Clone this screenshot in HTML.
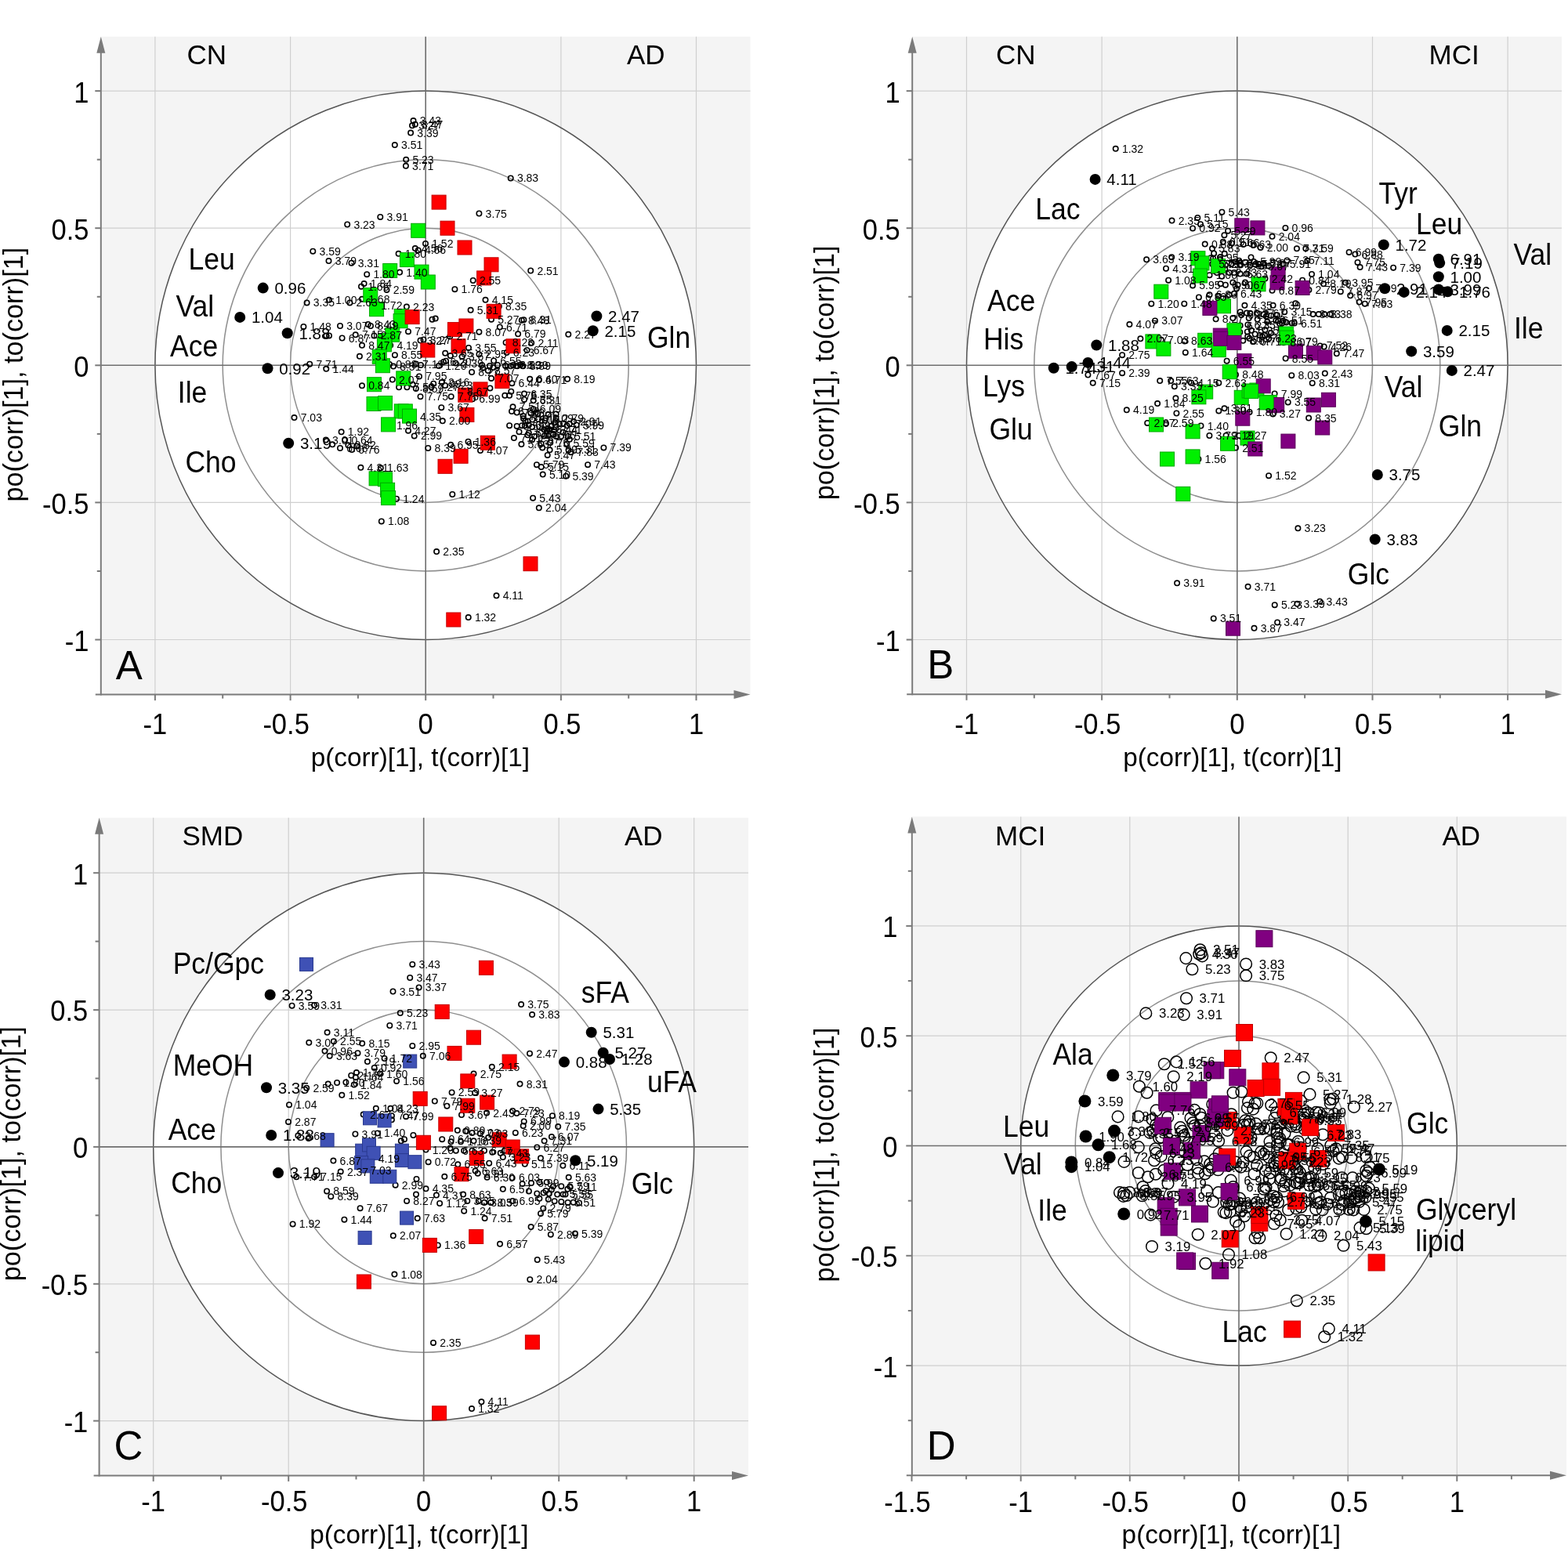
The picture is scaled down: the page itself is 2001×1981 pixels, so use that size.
<!DOCTYPE html><html><head><meta charset="utf-8"><title>Loadings plots</title><style>html,body{margin:0;padding:0;background:#fff}svg{display:block}</style></head><body>
<svg xmlns="http://www.w3.org/2000/svg" width="2001" height="1981" viewBox="0 0 2001 1981" font-family='"Liberation Sans", Arial, sans-serif' fill="#000">
<rect width="2001" height="1981" fill="#fff"/>
<g id="pA">
<rect x="128.8" y="46.7" width="828.7" height="839.9" fill="#f4f4f4"/>
<ellipse cx="543.2" cy="466.3" rx="345.3" ry="350.2" fill="#fff"/>
<line x1="197.9" y1="46.7" x2="197.9" y2="886.6" stroke="#cfcfcf" stroke-width="1.2"/>
<line x1="370.6" y1="46.7" x2="370.6" y2="886.6" stroke="#cfcfcf" stroke-width="1.2"/>
<line x1="715.9" y1="46.7" x2="715.9" y2="886.6" stroke="#cfcfcf" stroke-width="1.2"/>
<line x1="888.5" y1="46.7" x2="888.5" y2="886.6" stroke="#cfcfcf" stroke-width="1.2"/>
<line x1="128.8" y1="816.5" x2="957.5" y2="816.5" stroke="#cfcfcf" stroke-width="1.2"/>
<line x1="128.8" y1="641.4" x2="957.5" y2="641.4" stroke="#cfcfcf" stroke-width="1.2"/>
<line x1="128.8" y1="291.2" x2="957.5" y2="291.2" stroke="#cfcfcf" stroke-width="1.2"/>
<line x1="128.8" y1="116.1" x2="957.5" y2="116.1" stroke="#cfcfcf" stroke-width="1.2"/>
<ellipse cx="543.2" cy="466.3" rx="345.3" ry="350.2" fill="none" stroke="#555555" stroke-width="1.5"/>
<ellipse cx="543.2" cy="466.3" rx="259" ry="262.6" fill="none" stroke="#8f8f8f" stroke-width="1.5"/>
<ellipse cx="543.2" cy="466.3" rx="172.7" ry="175.1" fill="none" stroke="#8f8f8f" stroke-width="1.5"/>
<line x1="543.2" y1="46.7" x2="543.2" y2="886.6" stroke="#6e6e6e" stroke-width="1.6"/>
<line x1="128.8" y1="466.3" x2="957.5" y2="466.3" stroke="#6e6e6e" stroke-width="1.6"/>
</g>
<g fill="none" stroke="#000" stroke-width="1.6">
<circle cx="527.5" cy="154.1" r="3.2"/>
<circle cx="529.8" cy="158.7" r="3.2"/>
<circle cx="526" cy="160.3" r="3.2"/>
<circle cx="524.1" cy="169.6" r="3.2"/>
<circle cx="503.8" cy="185.1" r="3.2"/>
<circle cx="518.2" cy="203.8" r="3.2"/>
<circle cx="517.9" cy="211.8" r="3.2"/>
<circle cx="651.7" cy="227.4" r="3.2"/>
<circle cx="611.4" cy="272.5" r="3.2"/>
<circle cx="485.3" cy="276.9" r="3.2"/>
<circle cx="443.2" cy="286.5" r="3.2"/>
<circle cx="543" cy="310.9" r="3.2"/>
<circle cx="529.8" cy="317.1" r="3.2"/>
<circle cx="533.7" cy="319.4" r="3.2"/>
<circle cx="399.3" cy="320.7" r="3.2"/>
<circle cx="419.5" cy="333.1" r="3.2"/>
<circle cx="448.5" cy="335.7" r="3.2"/>
<circle cx="468.2" cy="350.2" r="3.2"/>
<circle cx="508.6" cy="323.8" r="3.2"/>
<circle cx="510.1" cy="347.6" r="3.2"/>
<circle cx="464.6" cy="362.1" r="3.2"/>
<circle cx="461" cy="365.7" r="3.2"/>
<circle cx="493.5" cy="369.9" r="3.2"/>
<circle cx="462" cy="381.8" r="3.2"/>
<circle cx="446.4" cy="386.4" r="3.2"/>
<circle cx="391.6" cy="386.4" r="3.2"/>
<circle cx="420" cy="382.8" r="3.2"/>
<circle cx="478" cy="390" r="3.2"/>
<circle cx="518.9" cy="391.6" r="3.2"/>
<circle cx="551.5" cy="407.7" r="3.2"/>
<circle cx="555.7" cy="406.6" r="3.2"/>
<circle cx="387.4" cy="417" r="3.2"/>
<circle cx="434" cy="416" r="3.2"/>
<circle cx="469.7" cy="413.9" r="3.2"/>
<circle cx="473" cy="416" r="3.2"/>
<circle cx="521" cy="423.2" r="3.2"/>
<circle cx="416.4" cy="428.4" r="3.2"/>
<circle cx="436.6" cy="431.5" r="3.2"/>
<circle cx="420" cy="428.4" r="3.2"/>
<circle cx="453.7" cy="427.3" r="3.2"/>
<circle cx="477.5" cy="428.4" r="3.2"/>
<circle cx="536.5" cy="434.6" r="3.2"/>
<circle cx="462" cy="440.8" r="3.2"/>
<circle cx="498.2" cy="440.8" r="3.2"/>
<circle cx="458.9" cy="454.8" r="3.2"/>
<circle cx="503.9" cy="453.2" r="3.2"/>
<circle cx="497" cy="465" r="3.2"/>
<circle cx="530.8" cy="464.6" r="3.2"/>
<circle cx="537" cy="466" r="3.2"/>
<circle cx="502" cy="467.5" r="3.2"/>
<circle cx="395.2" cy="464.7" r="3.2"/>
<circle cx="416.3" cy="470.8" r="3.2"/>
<circle cx="677.2" cy="345.5" r="3.2"/>
<circle cx="603.7" cy="358" r="3.2"/>
<circle cx="580.4" cy="369.2" r="3.2"/>
<circle cx="619.5" cy="382.8" r="3.2"/>
<circle cx="600.6" cy="395.8" r="3.2"/>
<circle cx="636.8" cy="391.1" r="3.2"/>
<circle cx="627" cy="407.7" r="3.2"/>
<circle cx="665.8" cy="408.7" r="3.2"/>
<circle cx="668.4" cy="408.2" r="3.2"/>
<circle cx="637.8" cy="417.5" r="3.2"/>
<circle cx="611.4" cy="423.7" r="3.2"/>
<circle cx="661.1" cy="426.3" r="3.2"/>
<circle cx="725.3" cy="426.8" r="3.2"/>
<circle cx="574.2" cy="429.4" r="3.2"/>
<circle cx="540.5" cy="433.5" r="3.2"/>
<circle cx="645.6" cy="437.2" r="3.2"/>
<circle cx="678.2" cy="437.7" r="3.2"/>
<circle cx="672.5" cy="447" r="3.2"/>
<circle cx="646.6" cy="450.1" r="3.2"/>
<circle cx="598" cy="443.9" r="3.2"/>
<circle cx="589.7" cy="455.3" r="3.2"/>
<circle cx="611.4" cy="452.2" r="3.2"/>
<circle cx="630.1" cy="460.5" r="3.2"/>
<circle cx="581.4" cy="463.6" r="3.2"/>
<circle cx="602.1" cy="475" r="3.2"/>
<circle cx="615" cy="466" r="3.2"/>
<circle cx="625" cy="467" r="3.2"/>
<circle cx="635" cy="466" r="3.2"/>
<circle cx="645" cy="467" r="3.2"/>
<circle cx="655" cy="466" r="3.2"/>
<circle cx="664.2" cy="465.6" r="3.2"/>
<circle cx="566" cy="462" r="3.2"/>
<circle cx="560" cy="467" r="3.2"/>
<circle cx="375.5" cy="533.1" r="3.2"/>
<circle cx="462" cy="492.3" r="3.2"/>
<circle cx="500.8" cy="484.5" r="3.2"/>
<circle cx="509.1" cy="494.3" r="3.2"/>
<circle cx="519.4" cy="494.3" r="3.2"/>
<circle cx="526.7" cy="490.7" r="3.2"/>
<circle cx="530.8" cy="495.9" r="3.2"/>
<circle cx="535" cy="480.4" r="3.2"/>
<circle cx="536.5" cy="506.2" r="3.2"/>
<circle cx="527.7" cy="532.1" r="3.2"/>
<circle cx="497.7" cy="542.5" r="3.2"/>
<circle cx="521" cy="549.7" r="3.2"/>
<circle cx="528.7" cy="556.4" r="3.2"/>
<circle cx="546.3" cy="572" r="3.2"/>
<circle cx="435.6" cy="551.3" r="3.2"/>
<circle cx="415.9" cy="561.6" r="3.2"/>
<circle cx="424.2" cy="567.3" r="3.2"/>
<circle cx="434" cy="572" r="3.2"/>
<circle cx="440.2" cy="561.6" r="3.2"/>
<circle cx="444.4" cy="568.3" r="3.2"/>
<circle cx="449" cy="574" r="3.2"/>
<circle cx="455.2" cy="569.4" r="3.2"/>
<circle cx="460.4" cy="596.8" r="3.2"/>
<circle cx="485.8" cy="597.3" r="3.2"/>
<circle cx="506" cy="636.7" r="3.2"/>
<circle cx="627" cy="482.9" r="3.2"/>
<circle cx="625.4" cy="495.4" r="3.2"/>
<circle cx="563.8" cy="488.1" r="3.2"/>
<circle cx="550.4" cy="493.8" r="3.2"/>
<circle cx="568" cy="492" r="3.2"/>
<circle cx="575.7" cy="506.2" r="3.2"/>
<circle cx="563.3" cy="520.2" r="3.2"/>
<circle cx="564.8" cy="537.3" r="3.2"/>
<circle cx="575.2" cy="567.8" r="3.2"/>
<circle cx="597.5" cy="563.7" r="3.2"/>
<circle cx="613" cy="575.1" r="3.2"/>
<circle cx="577.3" cy="631" r="3.2"/>
<circle cx="603.1" cy="509.3" r="3.2"/>
<circle cx="588" cy="500" r="3.2"/>
<circle cx="680.1" cy="635.7" r="3.2"/>
<circle cx="687.8" cy="648.3" r="3.2"/>
<circle cx="486.8" cy="665.4" r="3.2"/>
<circle cx="557.1" cy="704.1" r="3.2"/>
<circle cx="633.5" cy="760.3" r="3.2"/>
<circle cx="597.7" cy="788.1" r="3.2"/>
<circle cx="653.4" cy="489.2" r="3.2"/>
<circle cx="676.2" cy="483.8" r="3.2"/>
<circle cx="687.8" cy="484.5" r="3.2"/>
<circle cx="724.1" cy="483.8" r="3.2"/>
<circle cx="644.3" cy="504.8" r="3.2"/>
<circle cx="650.1" cy="504.8" r="3.2"/>
<circle cx="652.3" cy="499.7" r="3.2"/>
<circle cx="669" cy="502.6" r="3.2"/>
<circle cx="669" cy="509.9" r="3.2"/>
<circle cx="680.6" cy="511.3" r="3.2"/>
<circle cx="654.5" cy="519.3" r="3.2"/>
<circle cx="653" cy="525.1" r="3.2"/>
<circle cx="659.6" cy="526.5" r="3.2"/>
<circle cx="667.5" cy="530.9" r="3.2"/>
<circle cx="670.4" cy="537.4" r="3.2"/>
<circle cx="680.6" cy="522.2" r="3.2"/>
<circle cx="686.4" cy="528" r="3.2"/>
<circle cx="696.5" cy="533.8" r="3.2"/>
<circle cx="709.6" cy="533.8" r="3.2"/>
<circle cx="708.1" cy="539.6" r="3.2"/>
<circle cx="732" cy="538.1" r="3.2"/>
<circle cx="735.7" cy="542.5" r="3.2"/>
<circle cx="650.1" cy="543.2" r="3.2"/>
<circle cx="659.6" cy="543.9" r="3.2"/>
<circle cx="666.1" cy="543.2" r="3.2"/>
<circle cx="674.8" cy="542.5" r="3.2"/>
<circle cx="694.3" cy="548.3" r="3.2"/>
<circle cx="701.6" cy="548.3" r="3.2"/>
<circle cx="703.8" cy="543.9" r="3.2"/>
<circle cx="662.5" cy="551.2" r="3.2"/>
<circle cx="674.8" cy="552.6" r="3.2"/>
<circle cx="682" cy="557" r="3.2"/>
<circle cx="699.4" cy="556.2" r="3.2"/>
<circle cx="709.6" cy="557" r="3.2"/>
<circle cx="716.1" cy="557" r="3.2"/>
<circle cx="724.8" cy="557" r="3.2"/>
<circle cx="655.9" cy="559.1" r="3.2"/>
<circle cx="679.1" cy="561.3" r="3.2"/>
<circle cx="690.7" cy="566.4" r="3.2"/>
<circle cx="702.3" cy="564.9" r="3.2"/>
<circle cx="665.4" cy="567.1" r="3.2"/>
<circle cx="692.2" cy="571.4" r="3.2"/>
<circle cx="701.6" cy="574.3" r="3.2"/>
<circle cx="723.3" cy="566.4" r="3.2"/>
<circle cx="725.5" cy="574.3" r="3.2"/>
<circle cx="698.7" cy="580.9" r="3.2"/>
<circle cx="728.4" cy="577.2" r="3.2"/>
<circle cx="770.4" cy="571.4" r="3.2"/>
<circle cx="750.1" cy="593.2" r="3.2"/>
<circle cx="684.9" cy="593.2" r="3.2"/>
<circle cx="690.7" cy="596.1" r="3.2"/>
<circle cx="692.7" cy="605.6" r="3.2"/>
<circle cx="722.2" cy="607.7" r="3.2"/>
<circle cx="568.2" cy="450.8" r="3.2"/>
<circle cx="574.8" cy="454.1" r="3.2"/>
<circle cx="569" cy="460.7" r="3.2"/>
<circle cx="616.2" cy="469.8" r="3.2"/>
<circle cx="622.8" cy="473.1" r="3.2"/>
<circle cx="629.4" cy="469" r="3.2"/>
<circle cx="651.8" cy="467.3" r="3.2"/>
<circle cx="660.1" cy="467.3" r="3.2"/>
<circle cx="667.5" cy="467.3" r="3.2"/>
<circle cx="553.2" cy="489.7" r="3.2"/>
<circle cx="723.5" cy="543.3" r="3.2"/>
<circle cx="698.5" cy="547.6" r="3.2"/>
<circle cx="679.1" cy="544.9" r="3.2"/>
<circle cx="705.8" cy="554.8" r="3.2"/>
<circle cx="673.6" cy="537.6" r="3.2"/>
<circle cx="673.4" cy="555.3" r="3.2"/>
<circle cx="709.6" cy="528.5" r="3.2"/>
<circle cx="726.9" cy="560.8" r="3.2"/>
<circle cx="707.2" cy="548.5" r="3.2"/>
<circle cx="677.4" cy="527.5" r="3.2"/>
<circle cx="699.7" cy="529.1" r="3.2"/>
<circle cx="679.4" cy="535.5" r="3.2"/>
<circle cx="669.8" cy="543.2" r="3.2"/>
<circle cx="694.4" cy="556.5" r="3.2"/>
<circle cx="698" cy="550.2" r="3.2"/>
<circle cx="695.4" cy="536.7" r="3.2"/>
<circle cx="718.4" cy="551.8" r="3.2"/>
<circle cx="686.9" cy="535" r="3.2"/>
<circle cx="714" cy="541" r="3.2"/>
<circle cx="718.8" cy="540.5" r="3.2"/>
<circle cx="668" cy="534.3" r="3.2"/>
<circle cx="726.8" cy="540.9" r="3.2"/>
</g>
<rect x="551.1" y="249.1" width="18" height="18" fill="#ff0000" stroke="#c40000" stroke-width="1"/>
<rect x="524.7" y="285.3" width="18" height="18" fill="#00f000" stroke="#00a800" stroke-width="1"/>
<rect x="562" y="282.2" width="18" height="18" fill="#ff0000" stroke="#c40000" stroke-width="1"/>
<rect x="584" y="307" width="18" height="18" fill="#ff0000" stroke="#c40000" stroke-width="1"/>
<rect x="488.7" y="336.5" width="18" height="18" fill="#00f000" stroke="#00a800" stroke-width="1"/>
<rect x="510.4" y="322.6" width="18" height="18" fill="#00f000" stroke="#00a800" stroke-width="1"/>
<rect x="529" y="338.1" width="18" height="18" fill="#00f000" stroke="#00a800" stroke-width="1"/>
<rect x="537.3" y="351" width="18" height="18" fill="#00f000" stroke="#00a800" stroke-width="1"/>
<rect x="463.8" y="367.6" width="18" height="18" fill="#00f000" stroke="#00a800" stroke-width="1"/>
<rect x="471.6" y="385.7" width="18" height="18" fill="#00f000" stroke="#00a800" stroke-width="1"/>
<rect x="503.2" y="394.5" width="18" height="18" fill="#00f000" stroke="#00a800" stroke-width="1"/>
<rect x="502.1" y="400.7" width="18" height="18" fill="#00f000" stroke="#00a800" stroke-width="1"/>
<rect x="517.1" y="395.6" width="18" height="18" fill="#ff0000" stroke="#c40000" stroke-width="1"/>
<rect x="491.8" y="418.3" width="18" height="18" fill="#00f000" stroke="#00a800" stroke-width="1"/>
<rect x="482.5" y="425.6" width="18" height="18" fill="#00f000" stroke="#00a800" stroke-width="1"/>
<rect x="536.8" y="438" width="18" height="18" fill="#ff0000" stroke="#c40000" stroke-width="1"/>
<rect x="481.4" y="430.8" width="18" height="18" fill="#00f000" stroke="#00a800" stroke-width="1"/>
<rect x="475.2" y="446.3" width="18" height="18" fill="#00f000" stroke="#00a800" stroke-width="1"/>
<rect x="479.4" y="457.7" width="18" height="18" fill="#00f000" stroke="#00a800" stroke-width="1"/>
<rect x="618" y="328.8" width="18" height="18" fill="#ff0000" stroke="#c40000" stroke-width="1"/>
<rect x="608.6" y="345.9" width="18" height="18" fill="#ff0000" stroke="#c40000" stroke-width="1"/>
<rect x="621.1" y="388.3" width="18" height="18" fill="#ff0000" stroke="#c40000" stroke-width="1"/>
<rect x="571.4" y="411.6" width="18" height="18" fill="#ff0000" stroke="#c40000" stroke-width="1"/>
<rect x="585.9" y="407" width="18" height="18" fill="#ff0000" stroke="#c40000" stroke-width="1"/>
<rect x="576" y="432.8" width="18" height="18" fill="#ff0000" stroke="#c40000" stroke-width="1"/>
<rect x="645.9" y="432.8" width="18" height="18" fill="#ff0000" stroke="#c40000" stroke-width="1"/>
<rect x="468.5" y="481.7" width="18" height="18" fill="#00f000" stroke="#00a800" stroke-width="1"/>
<rect x="505.8" y="473.9" width="18" height="18" fill="#00f000" stroke="#00a800" stroke-width="1"/>
<rect x="468" y="506.5" width="18" height="18" fill="#00f000" stroke="#00a800" stroke-width="1"/>
<rect x="482.5" y="505.5" width="18" height="18" fill="#00f000" stroke="#00a800" stroke-width="1"/>
<rect x="503.2" y="515.9" width="18" height="18" fill="#00f000" stroke="#00a800" stroke-width="1"/>
<rect x="508.3" y="515.9" width="18" height="18" fill="#00f000" stroke="#00a800" stroke-width="1"/>
<rect x="513.5" y="522.1" width="18" height="18" fill="#00f000" stroke="#00a800" stroke-width="1"/>
<rect x="486.6" y="532.9" width="18" height="18" fill="#00f000" stroke="#00a800" stroke-width="1"/>
<rect x="471.1" y="601.8" width="18" height="18" fill="#00f000" stroke="#00a800" stroke-width="1"/>
<rect x="482.5" y="602.8" width="18" height="18" fill="#00f000" stroke="#00a800" stroke-width="1"/>
<rect x="485.6" y="616.3" width="18" height="18" fill="#00f000" stroke="#00a800" stroke-width="1"/>
<rect x="486.6" y="626.6" width="18" height="18" fill="#00f000" stroke="#00a800" stroke-width="1"/>
<rect x="631.9" y="477.6" width="18" height="18" fill="#ff0000" stroke="#c40000" stroke-width="1"/>
<rect x="604" y="487.9" width="18" height="18" fill="#ff0000" stroke="#c40000" stroke-width="1"/>
<rect x="584.8" y="495.2" width="18" height="18" fill="#ff0000" stroke="#c40000" stroke-width="1"/>
<rect x="586.9" y="520.5" width="18" height="18" fill="#ff0000" stroke="#c40000" stroke-width="1"/>
<rect x="613.3" y="556.2" width="18" height="18" fill="#ff0000" stroke="#c40000" stroke-width="1"/>
<rect x="579.1" y="573.3" width="18" height="18" fill="#ff0000" stroke="#c40000" stroke-width="1"/>
<rect x="559" y="586.3" width="18" height="18" fill="#ff0000" stroke="#c40000" stroke-width="1"/>
<rect x="668" y="710.7" width="18" height="18" fill="#ff0000" stroke="#c40000" stroke-width="1"/>
<rect x="569.8" y="782" width="18" height="18" fill="#ff0000" stroke="#c40000" stroke-width="1"/>
<g font-size="14">
<text x="535.7" y="159.1">3.43</text>
<text x="538" y="163.7">3.47</text>
<text x="534.2" y="165.3">3.27</text>
<text x="532.3" y="174.6">3.39</text>
<text x="512" y="190.1">3.51</text>
<text x="526.4" y="208.8">5.23</text>
<text x="526.1" y="216.8">3.71</text>
<text x="659.9" y="232.4">3.83</text>
<text x="619.6" y="277.5">3.75</text>
<text x="493.5" y="281.9">3.91</text>
<text x="451.4" y="291.5">3.23</text>
<text x="551.2" y="315.9">1.52</text>
<text x="538" y="322.1">4.56</text>
<text x="541.9" y="324.4">4.66</text>
<text x="407.5" y="325.7">3.59</text>
<text x="427.7" y="338.1">3.79</text>
<text x="456.7" y="340.7">3.31</text>
<text x="476.4" y="355.2">1.80</text>
<text x="516.8" y="328.8">1.80</text>
<text x="518.3" y="352.6">1.40</text>
<text x="472.8" y="367.1">1.84</text>
<text x="469.2" y="370.7">1.66</text>
<text x="501.7" y="374.9">2.59</text>
<text x="470.2" y="386.8">1.68</text>
<text x="454.6" y="391.4">2.63</text>
<text x="399.8" y="391.4">3.35</text>
<text x="428.2" y="387.8">1.00</text>
<text x="486.2" y="395">1.72</text>
<text x="527.1" y="396.6">2.23</text>
<text x="395.6" y="422">1.48</text>
<text x="442.2" y="421">3.07</text>
<text x="477.9" y="418.9">8.43</text>
<text x="481.2" y="421">8.49</text>
<text x="529.2" y="428.2">7.47</text>
<text x="444.8" y="436.5">6.87</text>
<text x="461.9" y="432.3">7.15</text>
<text x="485.7" y="433.4">2.87</text>
<text x="544.7" y="439.6">3.27</text>
<text x="470.2" y="445.8">8.47</text>
<text x="506.4" y="445.8">4.19</text>
<text x="467.1" y="459.8">2.31</text>
<text x="512.1" y="458.2">8.55</text>
<text x="505.2" y="470">0.88</text>
<text x="539" y="469.6">7.19</text>
<text x="510.2" y="472.5">8.51</text>
<text x="403.4" y="469.7">7.71</text>
<text x="424.5" y="475.8">1.44</text>
<text x="685.4" y="350.5">2.51</text>
<text x="611.9" y="363">2.55</text>
<text x="588.6" y="374.2">1.76</text>
<text x="627.7" y="387.8">4.15</text>
<text x="608.8" y="400.8">5.31</text>
<text x="645" y="396.1">8.35</text>
<text x="635.2" y="412.7">5.27</text>
<text x="674" y="413.7">8.48</text>
<text x="676.6" y="413.2">8.31</text>
<text x="646" y="422.5">6.71</text>
<text x="619.6" y="428.7">8.07</text>
<text x="669.3" y="431.3">6.79</text>
<text x="733.5" y="431.8">2.27</text>
<text x="582.4" y="434.4">2.71</text>
<text x="548.7" y="438.5">3.27</text>
<text x="653.8" y="442.2">8.23</text>
<text x="686.4" y="442.7">2.11</text>
<text x="680.7" y="452">6.67</text>
<text x="654.8" y="455.1">6.23</text>
<text x="606.2" y="448.9">3.55</text>
<text x="597.9" y="460.3">3.67</text>
<text x="619.6" y="457.2">2.95</text>
<text x="638.3" y="465.5">6.55</text>
<text x="589.6" y="468.6">2.39</text>
<text x="610.3" y="480">8.27</text>
<text x="643.2" y="471">6.63</text>
<text x="663.2" y="471">6.59</text>
<text x="672.4" y="470.6">8.39</text>
<text x="574.2" y="467">6.20</text>
<text x="568.2" y="472">1.20</text>
<text x="383.7" y="538.1">7.03</text>
<text x="470.2" y="497.3">0.84</text>
<text x="509" y="489.5">2.07</text>
<text x="527.6" y="499.3">7.59</text>
<text x="539" y="500.9">8.59</text>
<text x="543.2" y="485.4">7.95</text>
<text x="544.7" y="511.2">7.75</text>
<text x="535.9" y="537.1">4.35</text>
<text x="505.9" y="547.5">1.96</text>
<text x="529.2" y="554.7">4.27</text>
<text x="536.9" y="561.4">2.99</text>
<text x="554.5" y="577">8.39</text>
<text x="443.8" y="556.3">1.92</text>
<text x="424.1" y="566.6">3.01</text>
<text x="442.2" y="577">0.68</text>
<text x="448.4" y="566.6">0.64</text>
<text x="452.6" y="573.3">0.82</text>
<text x="457.2" y="579">0.76</text>
<text x="468.6" y="601.8">4.31</text>
<text x="494" y="602.3">1.63</text>
<text x="514.2" y="641.7">1.24</text>
<text x="635.2" y="487.9">7.07</text>
<text x="572" y="493.1">2.16</text>
<text x="558.6" y="498.8">7.27</text>
<text x="576.2" y="497">7.23</text>
<text x="583.9" y="511.2">7.75</text>
<text x="571.5" y="525.2">3.67</text>
<text x="573" y="542.3">2.00</text>
<text x="583.4" y="572.8">6.95</text>
<text x="605.7" y="568.7">1.36</text>
<text x="621.2" y="580.1">4.07</text>
<text x="585.5" y="636">1.12</text>
<text x="611.3" y="514.3">6.99</text>
<text x="596.2" y="505">8.67</text>
<text x="688.3" y="640.7">5.43</text>
<text x="696" y="653.3">2.04</text>
<text x="495" y="670.4">1.08</text>
<text x="565.3" y="709.1">2.35</text>
<text x="641.7" y="765.3">4.11</text>
<text x="605.9" y="793.1">1.32</text>
<text x="661.6" y="494.2">6.44</text>
<text x="684.4" y="488.8">6.40</text>
<text x="696" y="489.5">6.71</text>
<text x="732.3" y="488.8">8.19</text>
<text x="658.3" y="509.8">5.75</text>
<text x="677.2" y="507.6">6.35</text>
<text x="677.2" y="514.9">5.35</text>
<text x="688.8" y="516.3">6.31</text>
<text x="662.7" y="524.3">7.51</text>
<text x="661.2" y="530.1">8.03</text>
<text x="667.8" y="531.5">7.63</text>
<text x="675.7" y="535.9">7.27</text>
<text x="688.8" y="527.2">6.09</text>
<text x="704.7" y="538.8">8.09</text>
<text x="717.8" y="538.8">2.79</text>
<text x="740.2" y="543.1">2.91</text>
<text x="743.9" y="547.5">5.99</text>
<text x="667.8" y="548.9">5.55</text>
<text x="683" y="547.5">6.91</text>
<text x="709.8" y="553.3">8.44</text>
<text x="683" y="557.6">6.15</text>
<text x="707.6" y="561.2">6.95</text>
<text x="733" y="562">5.51</text>
<text x="664.1" y="564.1">7.71</text>
<text x="687.3" y="566.3">7.67</text>
<text x="698.9" y="571.4">7.75</text>
<text x="673.6" y="572.1">5.63</text>
<text x="709.8" y="579.3">5.59</text>
<text x="731.5" y="571.4">5.59</text>
<text x="733.7" y="579.3">5.31</text>
<text x="706.9" y="585.9">5.47</text>
<text x="736.6" y="582.2">7.83</text>
<text x="778.6" y="576.4">7.39</text>
<text x="758.3" y="598.2">7.43</text>
<text x="693.1" y="598.2">5.79</text>
<text x="698.9" y="601.1">5.15</text>
<text x="700.9" y="610.6">5.10</text>
<text x="730.4" y="612.7">5.39</text>
<text x="576.4" y="455.8">3.65</text>
<text x="631" y="478.1">8.57</text>
<text x="675.7" y="472.3">8.39</text>
<text x="561.4" y="494.7">7.99</text>
<text x="687.3" y="549.9">8.03</text>
<text x="681.6" y="560.3">7.07</text>
<text x="715.4" y="553.5">7.71</text>
<text x="687.6" y="540.5">6.15</text>
<text x="735" y="545.9">7.07</text>
</g>
<g font-size="20.5">
<circle cx="335.7" cy="367.6" r="7"/>
<text x="350.4" y="374.9">0.96</text>
<circle cx="306.2" cy="404.9" r="7"/>
<text x="320.9" y="412.2">1.04</text>
<circle cx="366.7" cy="425.3" r="7"/>
<text x="381.4" y="432.6">1.88</text>
<circle cx="341.5" cy="470.2" r="7"/>
<text x="356.2" y="477.5">0.92</text>
<circle cx="761.4" cy="403.5" r="7"/>
<text x="776.1" y="410.8">2.47</text>
<circle cx="756.7" cy="422.2" r="7"/>
<text x="771.4" y="429.5">2.15</text>
<circle cx="368.2" cy="565.8" r="7"/>
<text x="382.9" y="573.1">3.19</text>
</g>
<text transform="translate(240.5 343.8) scale(1 1.085)" font-size="35.5">Leu</text>
<text transform="translate(224.5 403.6) scale(1 1.085)" font-size="35.5">Val</text>
<text transform="translate(217.1 455.2) scale(1 1.085)" font-size="35.5">Ace</text>
<text transform="translate(825.9 443.9) scale(1 1.085)" font-size="35.5">Gln</text>
<text transform="translate(226.8 514) scale(1 1.085)" font-size="35.5">Ile</text>
<text transform="translate(236.5 602.5) scale(1 1.085)" font-size="35.5">Cho</text>
<g stroke="#7a7a7a" stroke-width="2" fill="none">
<line x1="128.8" y1="887.6" x2="128.8" y2="64.7"/>
<line x1="121.8" y1="886.6" x2="939.5" y2="886.6"/>
<line x1="197.9" y1="886.6" x2="197.9" y2="894.1"/>
<line x1="370.6" y1="886.6" x2="370.6" y2="894.1"/>
<line x1="543.2" y1="886.6" x2="543.2" y2="894.1"/>
<line x1="715.9" y1="886.6" x2="715.9" y2="894.1"/>
<line x1="888.5" y1="886.6" x2="888.5" y2="894.1"/>
<line x1="284.2" y1="886.6" x2="284.2" y2="891.6"/>
<line x1="456.9" y1="886.6" x2="456.9" y2="891.6"/>
<line x1="629.5" y1="886.6" x2="629.5" y2="891.6"/>
<line x1="802.2" y1="886.6" x2="802.2" y2="891.6"/>
<line x1="121.3" y1="816.5" x2="128.8" y2="816.5"/>
<line x1="121.3" y1="641.4" x2="128.8" y2="641.4"/>
<line x1="121.3" y1="466.3" x2="128.8" y2="466.3"/>
<line x1="121.3" y1="291.2" x2="128.8" y2="291.2"/>
<line x1="121.3" y1="116.1" x2="128.8" y2="116.1"/>
<line x1="123.8" y1="729" x2="128.8" y2="729"/>
<line x1="123.8" y1="553.9" x2="128.8" y2="553.9"/>
<line x1="123.8" y1="378.8" x2="128.8" y2="378.8"/>
<line x1="123.8" y1="203.7" x2="128.8" y2="203.7"/>
</g>
<path d="M128.8 46.7 L123.3 67.7 L134.3 67.7 Z" fill="#7a7a7a"/>
<path d="M957.5 886.6 L936.5 881.1 L936.5 892.1 Z" fill="#7a7a7a"/>
<g>
<text transform="translate(197.9 937.2) scale(1 1.08)" font-size="34.5" text-anchor="middle">-1</text>
<text transform="translate(365.1 937.2) scale(1 1.08)" font-size="34.5" text-anchor="middle">-0.5</text>
<text transform="translate(543.2 937.2) scale(1 1.08)" font-size="34.5" text-anchor="middle">0</text>
<text transform="translate(717.4 937.2) scale(1 1.08)" font-size="34.5" text-anchor="middle">0.5</text>
<text transform="translate(888.5 937.2) scale(1 1.08)" font-size="34.5" text-anchor="middle">1</text>
<text transform="translate(113.5 830.9) scale(1 1.08)" font-size="34.5" text-anchor="end">-1</text>
<text transform="translate(113.5 655.8) scale(1 1.08)" font-size="34.5" text-anchor="end">-0.5</text>
<text transform="translate(113.5 480.7) scale(1 1.08)" font-size="34.5" text-anchor="end">0</text>
<text transform="translate(113.5 305.6) scale(1 1.08)" font-size="34.5" text-anchor="end">0.5</text>
<text transform="translate(113.5 130.5) scale(1 1.08)" font-size="34.5" text-anchor="end">1</text>
</g>
<text x="536.4" y="978.4" font-size="33.3" text-anchor="middle">p(corr)[1], t(corr)[1]</text>
<text transform="translate(28.6 478.2) rotate(-90)" x="0" y="0" font-size="34.2" text-anchor="middle">po(corr)[1], to(corr)[1]</text>
<text x="147.8" y="866.6" font-size="51">A</text>
<text x="238.5" y="82.2" font-size="35">CN</text>
<text x="800" y="82.2" font-size="35">AD</text>
<g id="pB">
<rect x="1164.2" y="46.7" width="828.8" height="839.6" fill="#f4f4f4"/>
<ellipse cx="1578.8" cy="466.3" rx="345.3" ry="350.2" fill="#fff"/>
<line x1="1233.5" y1="46.7" x2="1233.5" y2="886.3" stroke="#cfcfcf" stroke-width="1.2"/>
<line x1="1406.1" y1="46.7" x2="1406.1" y2="886.3" stroke="#cfcfcf" stroke-width="1.2"/>
<line x1="1751.5" y1="46.7" x2="1751.5" y2="886.3" stroke="#cfcfcf" stroke-width="1.2"/>
<line x1="1924.1" y1="46.7" x2="1924.1" y2="886.3" stroke="#cfcfcf" stroke-width="1.2"/>
<line x1="1164.2" y1="816.5" x2="1993" y2="816.5" stroke="#cfcfcf" stroke-width="1.2"/>
<line x1="1164.2" y1="641.4" x2="1993" y2="641.4" stroke="#cfcfcf" stroke-width="1.2"/>
<line x1="1164.2" y1="291.2" x2="1993" y2="291.2" stroke="#cfcfcf" stroke-width="1.2"/>
<line x1="1164.2" y1="116.1" x2="1993" y2="116.1" stroke="#cfcfcf" stroke-width="1.2"/>
<ellipse cx="1578.8" cy="466.3" rx="345.3" ry="350.2" fill="none" stroke="#555555" stroke-width="1.5"/>
<ellipse cx="1578.8" cy="466.3" rx="259" ry="262.6" fill="none" stroke="#8f8f8f" stroke-width="1.5"/>
<ellipse cx="1578.8" cy="466.3" rx="172.7" ry="175.1" fill="none" stroke="#8f8f8f" stroke-width="1.5"/>
<line x1="1578.8" y1="46.7" x2="1578.8" y2="886.3" stroke="#6e6e6e" stroke-width="1.6"/>
<line x1="1164.2" y1="466.3" x2="1993" y2="466.3" stroke="#6e6e6e" stroke-width="1.6"/>
</g>
<g fill="none" stroke="#000" stroke-width="1.6">
<circle cx="1423.7" cy="189.8" r="3.2"/>
<circle cx="1559.4" cy="270.7" r="3.2"/>
<circle cx="1495.5" cy="281.6" r="3.2"/>
<circle cx="1528.3" cy="278" r="3.2"/>
<circle cx="1532" cy="286.2" r="3.2"/>
<circle cx="1522.1" cy="291.4" r="3.2"/>
<circle cx="1537.7" cy="311.6" r="3.2"/>
<circle cx="1547" cy="317.3" r="3.2"/>
<circle cx="1463.1" cy="331.3" r="3.2"/>
<circle cx="1495.2" cy="328.2" r="3.2"/>
<circle cx="1488" cy="342.7" r="3.2"/>
<circle cx="1491.1" cy="357.7" r="3.2"/>
<circle cx="1522.1" cy="364.4" r="3.2"/>
<circle cx="1529.9" cy="379.4" r="3.2"/>
<circle cx="1469.3" cy="387.7" r="3.2"/>
<circle cx="1511.3" cy="387.7" r="3.2"/>
<circle cx="1588.4" cy="389.8" r="3.2"/>
<circle cx="1624.6" cy="389.8" r="3.2"/>
<circle cx="1474" cy="409.4" r="3.2"/>
<circle cx="1441.4" cy="414.1" r="3.2"/>
<circle cx="1551.6" cy="407.3" r="3.2"/>
<circle cx="1567.1" cy="294.7" r="3.2"/>
<circle cx="1562.4" cy="300.2" r="3.2"/>
<circle cx="1623.5" cy="301.8" r="3.2"/>
<circle cx="1560.8" cy="308.8" r="3.2"/>
<circle cx="1571.8" cy="310.4" r="3.2"/>
<circle cx="1586.7" cy="312" r="3.2"/>
<circle cx="1600" cy="312.7" r="3.2"/>
<circle cx="1608.6" cy="315.9" r="3.2"/>
<circle cx="1545.1" cy="329.2" r="3.2"/>
<circle cx="1563.9" cy="338.6" r="3.2"/>
<circle cx="1571.8" cy="337.1" r="3.2"/>
<circle cx="1576.5" cy="333.9" r="3.2"/>
<circle cx="1582.7" cy="338.6" r="3.2"/>
<circle cx="1589" cy="334.7" r="3.2"/>
<circle cx="1595.3" cy="338.6" r="3.2"/>
<circle cx="1600" cy="333.9" r="3.2"/>
<circle cx="1606.3" cy="337.1" r="3.2"/>
<circle cx="1612.5" cy="336.3" r="3.2"/>
<circle cx="1618.8" cy="339.4" r="3.2"/>
<circle cx="1637.6" cy="337.1" r="3.2"/>
<circle cx="1642.4" cy="332.4" r="3.2"/>
<circle cx="1543.5" cy="351.2" r="3.2"/>
<circle cx="1552.9" cy="348" r="3.2"/>
<circle cx="1559.2" cy="352.7" r="3.2"/>
<circle cx="1568.6" cy="348" r="3.2"/>
<circle cx="1574.9" cy="348" r="3.2"/>
<circle cx="1582.7" cy="349.6" r="3.2"/>
<circle cx="1590.6" cy="349.6" r="3.2"/>
<circle cx="1557.6" cy="362.2" r="3.2"/>
<circle cx="1563.9" cy="363.7" r="3.2"/>
<circle cx="1573.3" cy="360.6" r="3.2"/>
<circle cx="1579.6" cy="363.7" r="3.2"/>
<circle cx="1578" cy="368.4" r="3.2"/>
<circle cx="1589" cy="360.6" r="3.2"/>
<circle cx="1623.5" cy="370.8" r="3.2"/>
<circle cx="1543.5" cy="376.3" r="3.2"/>
<circle cx="1554.5" cy="377.8" r="3.2"/>
<circle cx="1560.8" cy="381" r="3.2"/>
<circle cx="1568.6" cy="376.3" r="3.2"/>
<circle cx="1574.9" cy="374.7" r="3.2"/>
<circle cx="1582.7" cy="398.2" r="3.2"/>
<circle cx="1595.3" cy="399.8" r="3.2"/>
<circle cx="1604.7" cy="399.8" r="3.2"/>
<circle cx="1612.5" cy="401.4" r="3.2"/>
<circle cx="1622" cy="402.9" r="3.2"/>
<circle cx="1629.8" cy="402.2" r="3.2"/>
<circle cx="1639.2" cy="398.2" r="3.2"/>
<circle cx="1653.3" cy="387.3" r="3.2"/>
<circle cx="1573.3" cy="406.1" r="3.2"/>
<circle cx="1582.7" cy="415.5" r="3.2"/>
<circle cx="1593.7" cy="406.1" r="3.2"/>
<circle cx="1604.7" cy="407.6" r="3.2"/>
<circle cx="1617.3" cy="410.8" r="3.2"/>
<circle cx="1628.2" cy="409.2" r="3.2"/>
<circle cx="1636.1" cy="412.4" r="3.2"/>
<circle cx="1648.6" cy="412.4" r="3.2"/>
<circle cx="1596.9" cy="421.8" r="3.2"/>
<circle cx="1601.6" cy="426.5" r="3.2"/>
<circle cx="1607.8" cy="428" r="3.2"/>
<circle cx="1614.1" cy="428" r="3.2"/>
<circle cx="1622" cy="424.9" r="3.2"/>
<circle cx="1592.2" cy="429.6" r="3.2"/>
<circle cx="1640.4" cy="290.9" r="3.2"/>
<circle cx="1654.9" cy="317.3" r="3.2"/>
<circle cx="1666.3" cy="317.3" r="3.2"/>
<circle cx="1668.3" cy="332.8" r="3.2"/>
<circle cx="1674" cy="349.9" r="3.2"/>
<circle cx="1614.5" cy="355.6" r="3.2"/>
<circle cx="1662.1" cy="357.7" r="3.2"/>
<circle cx="1689" cy="362.3" r="3.2"/>
<circle cx="1717" cy="360.8" r="3.2"/>
<circle cx="1670.4" cy="370.1" r="3.2"/>
<circle cx="1710.8" cy="372.2" r="3.2"/>
<circle cx="1723.2" cy="377.3" r="3.2"/>
<circle cx="1734.6" cy="385.6" r="3.2"/>
<circle cx="1741.8" cy="387.7" r="3.2"/>
<circle cx="1747" cy="368" r="3.2"/>
<circle cx="1721.6" cy="321.9" r="3.2"/>
<circle cx="1729.4" cy="324.5" r="3.2"/>
<circle cx="1732.5" cy="334.9" r="3.2"/>
<circle cx="1735.6" cy="341.1" r="3.2"/>
<circle cx="1675.6" cy="401.1" r="3.2"/>
<circle cx="1682.8" cy="401.1" r="3.2"/>
<circle cx="1690.1" cy="401.1" r="3.2"/>
<circle cx="1697.3" cy="401.1" r="3.2"/>
<circle cx="1651.8" cy="412.5" r="3.2"/>
<circle cx="1631.1" cy="409.4" r="3.2"/>
<circle cx="1641.4" cy="411.5" r="3.2"/>
<circle cx="1778.1" cy="341.7" r="3.2"/>
<circle cx="1432.1" cy="453.2" r="3.2"/>
<circle cx="1388.4" cy="478.5" r="3.2"/>
<circle cx="1394.7" cy="488.8" r="3.2"/>
<circle cx="1432.1" cy="476.2" r="3.2"/>
<circle cx="1437.8" cy="523.3" r="3.2"/>
<circle cx="1455.4" cy="432.3" r="3.2"/>
<circle cx="1481.8" cy="433.8" r="3.2"/>
<circle cx="1511.8" cy="435.4" r="3.2"/>
<circle cx="1512.8" cy="449.9" r="3.2"/>
<circle cx="1565.6" cy="460.7" r="3.2"/>
<circle cx="1480.2" cy="486.1" r="3.2"/>
<circle cx="1494.2" cy="486.1" r="3.2"/>
<circle cx="1498.8" cy="493.3" r="3.2"/>
<circle cx="1520.1" cy="488.7" r="3.2"/>
<circle cx="1555.3" cy="488.7" r="3.2"/>
<circle cx="1577" cy="478.3" r="3.2"/>
<circle cx="1500.4" cy="508.3" r="3.2"/>
<circle cx="1477.1" cy="515.1" r="3.2"/>
<circle cx="1501.4" cy="527.5" r="3.2"/>
<circle cx="1555.3" cy="524.4" r="3.2"/>
<circle cx="1562.5" cy="521.3" r="3.2"/>
<circle cx="1594.6" cy="525.9" r="3.2"/>
<circle cx="1464.2" cy="539.9" r="3.2"/>
<circle cx="1488" cy="540.4" r="3.2"/>
<circle cx="1532.5" cy="543.5" r="3.2"/>
<circle cx="1543.4" cy="556" r="3.2"/>
<circle cx="1564.6" cy="556" r="3.2"/>
<circle cx="1581.1" cy="556" r="3.2"/>
<circle cx="1577" cy="571.5" r="3.2"/>
<circle cx="1529.4" cy="586" r="3.2"/>
<circle cx="1586.3" cy="434.8" r="3.2"/>
<circle cx="1599.8" cy="435.9" r="3.2"/>
<circle cx="1640.6" cy="457.5" r="3.2"/>
<circle cx="1705.8" cy="451.3" r="3.2"/>
<circle cx="1684.6" cy="441.4" r="3.2"/>
<circle cx="1689.7" cy="442.5" r="3.2"/>
<circle cx="1648.3" cy="479.2" r="3.2"/>
<circle cx="1690.8" cy="476.6" r="3.2"/>
<circle cx="1674.7" cy="489" r="3.2"/>
<circle cx="1626.6" cy="502.5" r="3.2"/>
<circle cx="1643.7" cy="513.4" r="3.2"/>
<circle cx="1624.5" cy="528.4" r="3.2"/>
<circle cx="1670.1" cy="533.6" r="3.2"/>
<circle cx="1594.5" cy="432.1" r="3.2"/>
<circle cx="1611.1" cy="430" r="3.2"/>
<circle cx="1619.3" cy="432.1" r="3.2"/>
<circle cx="1592.4" cy="414.5" r="3.2"/>
<circle cx="1638" cy="437.3" r="3.2"/>
<circle cx="1646.3" cy="436.3" r="3.2"/>
<circle cx="1619.1" cy="607.2" r="3.2"/>
<circle cx="1656.4" cy="674.3" r="3.2"/>
<circle cx="1502.1" cy="744.3" r="3.2"/>
<circle cx="1592.6" cy="748.8" r="3.2"/>
<circle cx="1626.7" cy="772.2" r="3.2"/>
<circle cx="1655.3" cy="770.8" r="3.2"/>
<circle cx="1684.3" cy="767.7" r="3.2"/>
<circle cx="1548.7" cy="789.4" r="3.2"/>
<circle cx="1630.1" cy="794.4" r="3.2"/>
<circle cx="1600.5" cy="801.8" r="3.2"/>
<circle cx="1547.1" cy="337.1" r="3.2"/>
<circle cx="1596.5" cy="328.5" r="3.2"/>
<circle cx="1548.1" cy="330" r="3.2"/>
<circle cx="1609.5" cy="340.2" r="3.2"/>
<circle cx="1549.1" cy="323.4" r="3.2"/>
<circle cx="1581.2" cy="332.7" r="3.2"/>
<circle cx="1555.3" cy="339.6" r="3.2"/>
<circle cx="1551.2" cy="337.4" r="3.2"/>
<circle cx="1556.9" cy="328.5" r="3.2"/>
<circle cx="1563.3" cy="343.2" r="3.2"/>
<circle cx="1556.7" cy="331.5" r="3.2"/>
<circle cx="1601.8" cy="337.4" r="3.2"/>
<circle cx="1549" cy="345.7" r="3.2"/>
<circle cx="1562.7" cy="323.8" r="3.2"/>
<circle cx="1559" cy="336.4" r="3.2"/>
<circle cx="1637.5" cy="409.5" r="3.2"/>
<circle cx="1614.5" cy="421" r="3.2"/>
<circle cx="1591" cy="399.6" r="3.2"/>
<circle cx="1634.5" cy="419.5" r="3.2"/>
<circle cx="1591.8" cy="423.5" r="3.2"/>
<circle cx="1632.9" cy="413.1" r="3.2"/>
<circle cx="1582.3" cy="423.9" r="3.2"/>
<circle cx="1615.8" cy="403.8" r="3.2"/>
<circle cx="1584.1" cy="401.9" r="3.2"/>
</g>
<rect x="1575.8" y="278.8" width="18" height="18" fill="#800080" stroke="#5a005a" stroke-width="1"/>
<rect x="1595.9" y="281.9" width="18" height="18" fill="#800080" stroke="#5a005a" stroke-width="1"/>
<rect x="1519.9" y="320.7" width="18" height="18" fill="#00f000" stroke="#00a800" stroke-width="1"/>
<rect x="1525" y="326.9" width="18" height="18" fill="#00f000" stroke="#00a800" stroke-width="1"/>
<rect x="1522.4" y="343" width="18" height="18" fill="#00f000" stroke="#00a800" stroke-width="1"/>
<rect x="1545.7" y="330.5" width="18" height="18" fill="#00f000" stroke="#00a800" stroke-width="1"/>
<rect x="1472.8" y="363.2" width="18" height="18" fill="#00f000" stroke="#00a800" stroke-width="1"/>
<rect x="1597" y="353.8" width="18" height="18" fill="#00f000" stroke="#00a800" stroke-width="1"/>
<rect x="1552.5" y="381.8" width="18" height="18" fill="#00f000" stroke="#00a800" stroke-width="1"/>
<rect x="1534.9" y="384.4" width="18" height="18" fill="#800080" stroke="#5a005a" stroke-width="1"/>
<rect x="1565.9" y="412.8" width="18" height="18" fill="#00f000" stroke="#00a800" stroke-width="1"/>
<rect x="1548.3" y="419.1" width="18" height="18" fill="#800080" stroke="#5a005a" stroke-width="1"/>
<rect x="1622.1" y="340.9" width="18" height="18" fill="#800080" stroke="#5a005a" stroke-width="1"/>
<rect x="1621" y="351.8" width="18" height="18" fill="#800080" stroke="#5a005a" stroke-width="1"/>
<rect x="1653.1" y="358.5" width="18" height="18" fill="#800080" stroke="#5a005a" stroke-width="1"/>
<rect x="1632.4" y="417" width="18" height="18" fill="#00f000" stroke="#00a800" stroke-width="1"/>
<rect x="1461.9" y="426.9" width="18" height="18" fill="#00f000" stroke="#00a800" stroke-width="1"/>
<rect x="1475.9" y="436.2" width="18" height="18" fill="#00f000" stroke="#00a800" stroke-width="1"/>
<rect x="1528.7" y="425.3" width="18" height="18" fill="#00f000" stroke="#00a800" stroke-width="1"/>
<rect x="1546.3" y="437.7" width="18" height="18" fill="#00f000" stroke="#00a800" stroke-width="1"/>
<rect x="1560.2" y="465.7" width="18" height="18" fill="#00f000" stroke="#00a800" stroke-width="1"/>
<rect x="1529.7" y="491.1" width="18" height="18" fill="#00f000" stroke="#00a800" stroke-width="1"/>
<rect x="1520.9" y="497.8" width="18" height="18" fill="#00f000" stroke="#00a800" stroke-width="1"/>
<rect x="1575.2" y="498.3" width="18" height="18" fill="#00f000" stroke="#00a800" stroke-width="1"/>
<rect x="1585.1" y="490" width="18" height="18" fill="#00f000" stroke="#00a800" stroke-width="1"/>
<rect x="1594.9" y="489" width="18" height="18" fill="#00f000" stroke="#00a800" stroke-width="1"/>
<rect x="1611.5" y="504.5" width="18" height="18" fill="#00f000" stroke="#00a800" stroke-width="1"/>
<rect x="1466.5" y="533" width="18" height="18" fill="#00f000" stroke="#00a800" stroke-width="1"/>
<rect x="1513.1" y="541.8" width="18" height="18" fill="#00f000" stroke="#00a800" stroke-width="1"/>
<rect x="1557.6" y="557.3" width="18" height="18" fill="#00f000" stroke="#00a800" stroke-width="1"/>
<rect x="1583" y="550.1" width="18" height="18" fill="#00f000" stroke="#00a800" stroke-width="1"/>
<rect x="1480.5" y="577" width="18" height="18" fill="#00f000" stroke="#00a800" stroke-width="1"/>
<rect x="1513.1" y="573.9" width="18" height="18" fill="#00f000" stroke="#00a800" stroke-width="1"/>
<rect x="1548.8" y="423.3" width="18" height="18" fill="#800080" stroke="#5a005a" stroke-width="1"/>
<rect x="1565.9" y="428.4" width="18" height="18" fill="#800080" stroke="#5a005a" stroke-width="1"/>
<rect x="1578.9" y="451.7" width="18" height="18" fill="#800080" stroke="#5a005a" stroke-width="1"/>
<rect x="1603.2" y="483.8" width="18" height="18" fill="#800080" stroke="#5a005a" stroke-width="1"/>
<rect x="1616.7" y="508.7" width="18" height="18" fill="#800080" stroke="#5a005a" stroke-width="1"/>
<rect x="1576.8" y="525.2" width="18" height="18" fill="#800080" stroke="#5a005a" stroke-width="1"/>
<rect x="1592.8" y="564" width="18" height="18" fill="#800080" stroke="#5a005a" stroke-width="1"/>
<rect x="1644.5" y="439.2" width="18" height="18" fill="#800080" stroke="#5a005a" stroke-width="1"/>
<rect x="1667.3" y="441.7" width="18" height="18" fill="#800080" stroke="#5a005a" stroke-width="1"/>
<rect x="1681.8" y="446.9" width="18" height="18" fill="#800080" stroke="#5a005a" stroke-width="1"/>
<rect x="1620.7" y="507.5" width="18" height="18" fill="#800080" stroke="#5a005a" stroke-width="1"/>
<rect x="1667.3" y="508" width="18" height="18" fill="#800080" stroke="#5a005a" stroke-width="1"/>
<rect x="1686.4" y="501.3" width="18" height="18" fill="#800080" stroke="#5a005a" stroke-width="1"/>
<rect x="1678.7" y="537" width="18" height="18" fill="#800080" stroke="#5a005a" stroke-width="1"/>
<rect x="1633.1" y="422.1" width="18" height="18" fill="#00f000" stroke="#00a800" stroke-width="1"/>
<rect x="1607.2" y="504.9" width="18" height="18" fill="#00f000" stroke="#00a800" stroke-width="1"/>
<rect x="1587.6" y="490.4" width="18" height="18" fill="#00f000" stroke="#00a800" stroke-width="1"/>
<rect x="1500.8" y="621.4" width="18" height="18" fill="#00f000" stroke="#00a800" stroke-width="1"/>
<rect x="1634.9" y="554.1" width="18" height="18" fill="#800080" stroke="#5a005a" stroke-width="1"/>
<rect x="1564.5" y="793.2" width="18" height="18" fill="#800080" stroke="#5a005a" stroke-width="1"/>
<g font-size="14">
<text x="1431.9" y="194.8">1.32</text>
<text x="1567.6" y="275.7">5.43</text>
<text x="1503.7" y="286.6">2.35</text>
<text x="1536.5" y="283">5.11</text>
<text x="1540.2" y="291.2">5.15</text>
<text x="1530.3" y="296.4">0.92</text>
<text x="1545.9" y="316.6">0.88</text>
<text x="1555.2" y="322.3">5.83</text>
<text x="1471.3" y="336.3">3.63</text>
<text x="1503.4" y="333.2">3.19</text>
<text x="1496.2" y="347.7">4.31</text>
<text x="1499.3" y="362.7">1.08</text>
<text x="1530.3" y="369.4">5.95</text>
<text x="1538.1" y="384.4">6.83</text>
<text x="1477.5" y="392.7">1.20</text>
<text x="1519.5" y="392.7">1.48</text>
<text x="1596.6" y="394.8">4.35</text>
<text x="1632.8" y="394.8">6.39</text>
<text x="1482.2" y="414.4">3.07</text>
<text x="1449.6" y="419.1">4.07</text>
<text x="1559.8" y="412.3">8.27</text>
<text x="1575.3" y="299.7">5.29</text>
<text x="1570.6" y="305.2">5.27</text>
<text x="1631.7" y="306.8">2.04</text>
<text x="1569" y="313.8">0.91</text>
<text x="1580" y="315.4">1.66</text>
<text x="1594.9" y="317">5.63</text>
<text x="1616.8" y="320.9">2.00</text>
<text x="1553.3" y="334.2">6.95</text>
<text x="1580" y="342.1">5.79</text>
<text x="1590.9" y="343.6">5.59</text>
<text x="1608.2" y="338.9">5.99</text>
<text x="1620.7" y="341.3">5.67</text>
<text x="1645.8" y="342.1">5.91</text>
<text x="1650.6" y="337.4">7.35</text>
<text x="1551.7" y="356.2">1.00</text>
<text x="1576.8" y="353">2.63</text>
<text x="1590.9" y="354.6">6.63</text>
<text x="1572.1" y="368.7">6.90</text>
<text x="1587.8" y="368.7">6.67</text>
<text x="1631.7" y="375.8">6.87</text>
<text x="1551.7" y="381.3">6.83</text>
<text x="1583.1" y="379.7">6.43</text>
<text x="1612.9" y="404.8">5.67</text>
<text x="1647.4" y="403.2">3.15</text>
<text x="1590.9" y="420.5">6.27</text>
<text x="1612.9" y="412.6">5.28</text>
<text x="1636.4" y="414.2">6.51</text>
<text x="1605.1" y="426.8">6.35</text>
<text x="1648.6" y="295.9">0.96</text>
<text x="1663.1" y="322.3">7.31</text>
<text x="1674.5" y="322.3">7.59</text>
<text x="1676.5" y="337.8">7.11</text>
<text x="1682.2" y="354.9">1.04</text>
<text x="1622.7" y="360.6">2.42</text>
<text x="1670.3" y="362.7">0.84</text>
<text x="1697.2" y="367.3">8.19</text>
<text x="1725.2" y="365.8">3.95</text>
<text x="1678.6" y="375.1">2.79</text>
<text x="1719" y="377.2">7.87</text>
<text x="1731.4" y="382.3">6.97</text>
<text x="1742.8" y="390.6">7.95</text>
<text x="1750" y="392.7">7.63</text>
<text x="1755.2" y="373">7.99</text>
<text x="1729.8" y="326.9">6.99</text>
<text x="1737.6" y="329.5">6.88</text>
<text x="1740.7" y="339.9">7.75</text>
<text x="1743.8" y="346.1">7.43</text>
<text x="1683.8" y="406.1">3.03</text>
<text x="1698.3" y="406.1">3.38</text>
<text x="1660" y="417.5">6.51</text>
<text x="1786.3" y="346.7">7.39</text>
<text x="1440.3" y="458.2">2.75</text>
<text x="1396.6" y="483.5">7.67</text>
<text x="1402.9" y="493.8">7.15</text>
<text x="1440.3" y="481.2">2.39</text>
<text x="1446" y="528.3">4.19</text>
<text x="1463.6" y="437.3">2.07</text>
<text x="1490" y="438.8">7.03</text>
<text x="1520" y="440.4">8.63</text>
<text x="1521" y="454.9">1.64</text>
<text x="1573.8" y="465.7">6.55</text>
<text x="1488.4" y="491.1">7.55</text>
<text x="1502.4" y="491.1">7.63</text>
<text x="1507" y="498.3">3.35</text>
<text x="1528.3" y="493.7">4.15</text>
<text x="1563.5" y="493.7">2.63</text>
<text x="1585.2" y="483.3">8.48</text>
<text x="1508.6" y="513.3">8.25</text>
<text x="1485.3" y="520.1">1.84</text>
<text x="1509.6" y="532.5">2.55</text>
<text x="1563.5" y="529.4">1.30</text>
<text x="1570.7" y="526.3">3.61</text>
<text x="1602.8" y="530.9">1.80</text>
<text x="1472.4" y="544.9">2.87</text>
<text x="1496.2" y="545.4">2.59</text>
<text x="1540.7" y="548.5">1.40</text>
<text x="1551.6" y="561">3.79</text>
<text x="1572.8" y="561">2.19</text>
<text x="1589.3" y="561">2.27</text>
<text x="1585.2" y="576.5">2.51</text>
<text x="1537.6" y="591">1.56</text>
<text x="1594.5" y="439.8">8.07</text>
<text x="1608" y="440.9">6.71</text>
<text x="1648.8" y="462.5">8.55</text>
<text x="1714" y="456.3">7.47</text>
<text x="1692.8" y="446.4">7.52</text>
<text x="1697.9" y="447.5">4.26</text>
<text x="1656.5" y="484.2">8.03</text>
<text x="1699" y="481.6">2.43</text>
<text x="1682.9" y="494">8.31</text>
<text x="1634.8" y="507.5">7.99</text>
<text x="1651.9" y="518.4">3.55</text>
<text x="1632.7" y="533.4">3.27</text>
<text x="1678.3" y="538.6">8.35</text>
<text x="1602.7" y="437.1">6.27</text>
<text x="1627.5" y="437.1">6.23</text>
<text x="1600.6" y="419.5">6.35</text>
<text x="1646.2" y="442.3">8.07</text>
<text x="1654.5" y="441.3">6.79</text>
<text x="1627.3" y="612.2">1.52</text>
<text x="1664.6" y="679.3">3.23</text>
<text x="1510.3" y="749.3">3.91</text>
<text x="1600.8" y="753.8">3.71</text>
<text x="1634.9" y="777.2">5.23</text>
<text x="1663.5" y="775.8">3.39</text>
<text x="1692.5" y="772.7">3.43</text>
<text x="1556.9" y="794.4">3.51</text>
<text x="1638.3" y="799.4">3.47</text>
<text x="1608.7" y="806.8">3.87</text>
<text x="1555.3" y="342.1">5.79</text>
<text x="1617.7" y="345.2">5.67</text>
<text x="1559.4" y="342.4">7.23</text>
<text x="1610" y="342.4">5.79</text>
<text x="1567.2" y="341.4">5.83</text>
<text x="1599.2" y="404.6">6.27</text>
<text x="1592.3" y="406.9">6.27</text>
</g>
<g font-size="20.5">
<circle cx="1397.6" cy="228.9" r="7"/>
<text x="1412.3" y="236.2">4.11</text>
<circle cx="1765.8" cy="312.4" r="7"/>
<text x="1780.5" y="319.7">1.72</text>
<circle cx="1835.8" cy="330.8" r="7"/>
<text x="1850.5" y="338.1">6.91</text>
<circle cx="1837.2" cy="335.6" r="7"/>
<text x="1851.9" y="342.9">7.19</text>
<circle cx="1835.8" cy="353.2" r="7"/>
<text x="1850.5" y="360.5">1.00</text>
<circle cx="1767.2" cy="368.2" r="7"/>
<text x="1781.9" y="375.5">2.91</text>
<circle cx="1791.7" cy="372.9" r="7"/>
<text x="1806.4" y="380.2">2.14</text>
<circle cx="1835.8" cy="369.5" r="7"/>
<text x="1850.5" y="376.8">3.99</text>
<circle cx="1847.4" cy="372.3" r="7"/>
<text x="1862.1" y="379.6">1.76</text>
<circle cx="1846.7" cy="421.9" r="7"/>
<text x="1861.4" y="429.2">2.15</text>
<circle cx="1801.2" cy="448.4" r="7"/>
<text x="1815.9" y="455.7">3.59</text>
<circle cx="1852.8" cy="472.9" r="7"/>
<text x="1867.5" y="480.2">2.47</text>
<circle cx="1399.3" cy="440.5" r="7"/>
<text x="1414" y="447.8">1.88</text>
<circle cx="1344.7" cy="469.8" r="7"/>
<text x="1359.4" y="477.1">1.74</text>
<circle cx="1367.7" cy="468.1" r="7"/>
<text x="1382.4" y="475.4">1.31</text>
<circle cx="1388.4" cy="462.9" r="7"/>
<text x="1403.1" y="470.2">1.44</text>
<circle cx="1757.8" cy="606" r="7"/>
<text x="1772.5" y="613.3">3.75</text>
<circle cx="1754.7" cy="688.4" r="7"/>
<text x="1769.4" y="695.7">3.83</text>
</g>
<text transform="translate(1321.2 280.2) scale(1 1.085)" font-size="35.5">Lac</text>
<text transform="translate(1759.6 260.1) scale(1 1.085)" font-size="35.5">Tyr</text>
<text transform="translate(1807.1 298.8) scale(1 1.085)" font-size="35.5">Leu</text>
<text transform="translate(1931.5 337.6) scale(1 1.085)" font-size="35.5">Val</text>
<text transform="translate(1931.9 432.1) scale(1 1.085)" font-size="35.5">Ile</text>
<text transform="translate(1260 397.4) scale(1 1.085)" font-size="35.5">Ace</text>
<text transform="translate(1254.9 445.7) scale(1 1.085)" font-size="35.5">His</text>
<text transform="translate(1254.1 506.1) scale(1 1.085)" font-size="35.5">Lys</text>
<text transform="translate(1262.4 560.7) scale(1 1.085)" font-size="35.5">Glu</text>
<text transform="translate(1766.8 507) scale(1 1.085)" font-size="35.5">Val</text>
<text transform="translate(1835.8 556.7) scale(1 1.085)" font-size="35.5">Gln</text>
<text transform="translate(1719.8 746.3) scale(1 1.085)" font-size="35.5">Glc</text>
<g stroke="#7a7a7a" stroke-width="2" fill="none">
<line x1="1164.2" y1="887.3" x2="1164.2" y2="64.7"/>
<line x1="1157.2" y1="886.3" x2="1975" y2="886.3"/>
<line x1="1233.5" y1="886.3" x2="1233.5" y2="893.8"/>
<line x1="1406.1" y1="886.3" x2="1406.1" y2="893.8"/>
<line x1="1578.8" y1="886.3" x2="1578.8" y2="893.8"/>
<line x1="1751.5" y1="886.3" x2="1751.5" y2="893.8"/>
<line x1="1924.1" y1="886.3" x2="1924.1" y2="893.8"/>
<line x1="1319.8" y1="886.3" x2="1319.8" y2="891.3"/>
<line x1="1492.5" y1="886.3" x2="1492.5" y2="891.3"/>
<line x1="1665.1" y1="886.3" x2="1665.1" y2="891.3"/>
<line x1="1837.8" y1="886.3" x2="1837.8" y2="891.3"/>
<line x1="1156.7" y1="816.5" x2="1164.2" y2="816.5"/>
<line x1="1156.7" y1="641.4" x2="1164.2" y2="641.4"/>
<line x1="1156.7" y1="466.3" x2="1164.2" y2="466.3"/>
<line x1="1156.7" y1="291.2" x2="1164.2" y2="291.2"/>
<line x1="1156.7" y1="116.1" x2="1164.2" y2="116.1"/>
<line x1="1159.2" y1="729" x2="1164.2" y2="729"/>
<line x1="1159.2" y1="553.9" x2="1164.2" y2="553.9"/>
<line x1="1159.2" y1="378.8" x2="1164.2" y2="378.8"/>
<line x1="1159.2" y1="203.7" x2="1164.2" y2="203.7"/>
</g>
<path d="M1164.2 46.7 L1158.7 67.7 L1169.7 67.7 Z" fill="#7a7a7a"/>
<path d="M1993 886.3 L1972 880.8 L1972 891.8 Z" fill="#7a7a7a"/>
<g>
<text transform="translate(1233.5 937.2) scale(1 1.08)" font-size="34.5" text-anchor="middle">-1</text>
<text transform="translate(1400.6 937.2) scale(1 1.08)" font-size="34.5" text-anchor="middle">-0.5</text>
<text transform="translate(1578.8 937.2) scale(1 1.08)" font-size="34.5" text-anchor="middle">0</text>
<text transform="translate(1753 937.2) scale(1 1.08)" font-size="34.5" text-anchor="middle">0.5</text>
<text transform="translate(1924.1 937.2) scale(1 1.08)" font-size="34.5" text-anchor="middle">1</text>
<text transform="translate(1148.7 830.9) scale(1 1.08)" font-size="34.5" text-anchor="end">-1</text>
<text transform="translate(1148.7 655.8) scale(1 1.08)" font-size="34.5" text-anchor="end">-0.5</text>
<text transform="translate(1148.7 480.7) scale(1 1.08)" font-size="34.5" text-anchor="end">0</text>
<text transform="translate(1148.7 305.6) scale(1 1.08)" font-size="34.5" text-anchor="end">0.5</text>
<text transform="translate(1148.7 130.5) scale(1 1.08)" font-size="34.5" text-anchor="end">1</text>
</g>
<text x="1572.9" y="978.4" font-size="33.3" text-anchor="middle">p(corr)[1], t(corr)[1]</text>
<text transform="translate(1064 475.9) rotate(-90)" x="0" y="0" font-size="34.2" text-anchor="middle">po(corr)[1], to(corr)[1]</text>
<text x="1183.2" y="866.3" font-size="51">B</text>
<text x="1271" y="82" font-size="35">CN</text>
<text x="1823.5" y="82" font-size="35">MCI</text>
<g id="pC">
<rect x="126.6" y="1043.8" width="828.4" height="839.6" fill="#f4f4f4"/>
<ellipse cx="540.7" cy="1463.9" rx="345" ry="349.7" fill="#fff"/>
<line x1="195.7" y1="1043.8" x2="195.7" y2="1883.4" stroke="#cfcfcf" stroke-width="1.2"/>
<line x1="368.2" y1="1043.8" x2="368.2" y2="1883.4" stroke="#cfcfcf" stroke-width="1.2"/>
<line x1="713.2" y1="1043.8" x2="713.2" y2="1883.4" stroke="#cfcfcf" stroke-width="1.2"/>
<line x1="885.7" y1="1043.8" x2="885.7" y2="1883.4" stroke="#cfcfcf" stroke-width="1.2"/>
<line x1="126.6" y1="1813.6" x2="955" y2="1813.6" stroke="#cfcfcf" stroke-width="1.2"/>
<line x1="126.6" y1="1638.8" x2="955" y2="1638.8" stroke="#cfcfcf" stroke-width="1.2"/>
<line x1="126.6" y1="1289.1" x2="955" y2="1289.1" stroke="#cfcfcf" stroke-width="1.2"/>
<line x1="126.6" y1="1114.2" x2="955" y2="1114.2" stroke="#cfcfcf" stroke-width="1.2"/>
<ellipse cx="540.7" cy="1463.9" rx="345" ry="349.7" fill="none" stroke="#555555" stroke-width="1.5"/>
<ellipse cx="540.7" cy="1463.9" rx="258.8" ry="262.3" fill="none" stroke="#8f8f8f" stroke-width="1.5"/>
<ellipse cx="540.7" cy="1463.9" rx="172.5" ry="174.8" fill="none" stroke="#8f8f8f" stroke-width="1.5"/>
<line x1="540.7" y1="1043.8" x2="540.7" y2="1883.4" stroke="#6e6e6e" stroke-width="1.6"/>
<line x1="126.6" y1="1463.9" x2="955" y2="1463.9" stroke="#6e6e6e" stroke-width="1.6"/>
</g>
<g fill="none" stroke="#000" stroke-width="1.6">
<circle cx="372.6" cy="1283.7" r="3.2"/>
<circle cx="401.1" cy="1283.1" r="3.2"/>
<circle cx="526.3" cy="1230.9" r="3.2"/>
<circle cx="523.2" cy="1248" r="3.2"/>
<circle cx="534.6" cy="1260.4" r="3.2"/>
<circle cx="501.5" cy="1265.5" r="3.2"/>
<circle cx="510.8" cy="1293" r="3.2"/>
<circle cx="497.3" cy="1309" r="3.2"/>
<circle cx="417.6" cy="1317.8" r="3.2"/>
<circle cx="394.3" cy="1330.8" r="3.2"/>
<circle cx="425.9" cy="1329.2" r="3.2"/>
<circle cx="462.2" cy="1331.8" r="3.2"/>
<circle cx="414.5" cy="1341.6" r="3.2"/>
<circle cx="420.7" cy="1347.8" r="3.2"/>
<circle cx="456.5" cy="1344.2" r="3.2"/>
<circle cx="526.3" cy="1334.9" r="3.2"/>
<circle cx="490.6" cy="1351" r="3.2"/>
<circle cx="468.9" cy="1355.1" r="3.2"/>
<circle cx="477.7" cy="1362.9" r="3.2"/>
<circle cx="484.9" cy="1370.6" r="3.2"/>
<circle cx="454.9" cy="1369.1" r="3.2"/>
<circle cx="448.2" cy="1372.7" r="3.2"/>
<circle cx="453.9" cy="1375.3" r="3.2"/>
<circle cx="506.1" cy="1379.9" r="3.2"/>
<circle cx="418.7" cy="1383.6" r="3.2"/>
<circle cx="430.1" cy="1382" r="3.2"/>
<circle cx="441.4" cy="1381.5" r="3.2"/>
<circle cx="451.8" cy="1384.6" r="3.2"/>
<circle cx="391.2" cy="1388.7" r="3.2"/>
<circle cx="665.1" cy="1282.1" r="3.2"/>
<circle cx="679.1" cy="1295.1" r="3.2"/>
<circle cx="676" cy="1344.7" r="3.2"/>
<circle cx="539.8" cy="1347.8" r="3.2"/>
<circle cx="627.8" cy="1361.8" r="3.2"/>
<circle cx="604.5" cy="1370.6" r="3.2"/>
<circle cx="663.5" cy="1383.6" r="3.2"/>
<circle cx="576.6" cy="1394.4" r="3.2"/>
<circle cx="606.1" cy="1394.9" r="3.2"/>
<circle cx="436.3" cy="1397.8" r="3.2"/>
<circle cx="369" cy="1410.2" r="3.2"/>
<circle cx="368" cy="1431.9" r="3.2"/>
<circle cx="380.4" cy="1449.5" r="3.2"/>
<circle cx="393.8" cy="1453.1" r="3.2"/>
<circle cx="479.8" cy="1414.8" r="3.2"/>
<circle cx="498.4" cy="1414.8" r="3.2"/>
<circle cx="463.7" cy="1422.6" r="3.2"/>
<circle cx="499.9" cy="1424.2" r="3.2"/>
<circle cx="499.9" cy="1429.3" r="3.2"/>
<circle cx="518.1" cy="1425.2" r="3.2"/>
<circle cx="453.4" cy="1447.5" r="3.2"/>
<circle cx="481.8" cy="1446.4" r="3.2"/>
<circle cx="474.6" cy="1479" r="3.2"/>
<circle cx="464.2" cy="1493.5" r="3.2"/>
<circle cx="425.4" cy="1481.6" r="3.2"/>
<circle cx="434.7" cy="1495.6" r="3.2"/>
<circle cx="378.3" cy="1502.3" r="3.2"/>
<circle cx="401.1" cy="1502.3" r="3.2"/>
<circle cx="504.6" cy="1512.7" r="3.2"/>
<circle cx="417.1" cy="1520.4" r="3.2"/>
<circle cx="422.3" cy="1527.2" r="3.2"/>
<circle cx="459.6" cy="1542.2" r="3.2"/>
<circle cx="439.4" cy="1556.7" r="3.2"/>
<circle cx="373.6" cy="1562.4" r="3.2"/>
<circle cx="531.5" cy="1504.9" r="3.2"/>
<circle cx="531" cy="1524.6" r="3.2"/>
<circle cx="519.1" cy="1532.9" r="3.2"/>
<circle cx="527.4" cy="1449" r="3.2"/>
<circle cx="516" cy="1454.2" r="3.2"/>
<circle cx="511.8" cy="1456.3" r="3.2"/>
<circle cx="554.8" cy="1405.5" r="3.2"/>
<circle cx="570.4" cy="1411.7" r="3.2"/>
<circle cx="654.2" cy="1418" r="3.2"/>
<circle cx="621.1" cy="1420.5" r="3.2"/>
<circle cx="659.4" cy="1421.1" r="3.2"/>
<circle cx="589" cy="1423.1" r="3.2"/>
<circle cx="704.9" cy="1424.2" r="3.2"/>
<circle cx="668.7" cy="1431.4" r="3.2"/>
<circle cx="667.7" cy="1437.1" r="3.2"/>
<circle cx="712.2" cy="1438.1" r="3.2"/>
<circle cx="583.8" cy="1442.8" r="3.2"/>
<circle cx="594.2" cy="1443.8" r="3.2"/>
<circle cx="602.5" cy="1445.9" r="3.2"/>
<circle cx="612.8" cy="1446.9" r="3.2"/>
<circle cx="657.8" cy="1445.9" r="3.2"/>
<circle cx="703.9" cy="1451.1" r="3.2"/>
<circle cx="564.2" cy="1454.2" r="3.2"/>
<circle cx="575.5" cy="1457.3" r="3.2"/>
<circle cx="588" cy="1457.3" r="3.2"/>
<circle cx="604.5" cy="1456.3" r="3.2"/>
<circle cx="623.2" cy="1452.1" r="3.2"/>
<circle cx="694.6" cy="1456.3" r="3.2"/>
<circle cx="685.3" cy="1464.5" r="3.2"/>
<circle cx="543.5" cy="1467.6" r="3.2"/>
<circle cx="574.5" cy="1465.6" r="3.2"/>
<circle cx="581.8" cy="1468.7" r="3.2"/>
<circle cx="592.1" cy="1468.7" r="3.2"/>
<circle cx="602.5" cy="1468.7" r="3.2"/>
<circle cx="618" cy="1468.7" r="3.2"/>
<circle cx="628.3" cy="1470.7" r="3.2"/>
<circle cx="638.7" cy="1471.8" r="3.2"/>
<circle cx="643.9" cy="1468.7" r="3.2"/>
<circle cx="641.8" cy="1477" r="3.2"/>
<circle cx="546.6" cy="1483.2" r="3.2"/>
<circle cx="584.3" cy="1486.3" r="3.2"/>
<circle cx="624.2" cy="1484.7" r="3.2"/>
<circle cx="669.8" cy="1485.8" r="3.2"/>
<circle cx="718.4" cy="1487.8" r="3.2"/>
<circle cx="606.6" cy="1494.6" r="3.2"/>
<circle cx="609.7" cy="1497.7" r="3.2"/>
<circle cx="567.3" cy="1501.8" r="3.2"/>
<circle cx="621.6" cy="1502.8" r="3.2"/>
<circle cx="653.7" cy="1503.4" r="3.2"/>
<circle cx="725.7" cy="1502.8" r="3.2"/>
<circle cx="666.6" cy="1511.1" r="3.2"/>
<circle cx="678" cy="1510.1" r="3.2"/>
<circle cx="688.4" cy="1509" r="3.2"/>
<circle cx="697.7" cy="1509" r="3.2"/>
<circle cx="706" cy="1514.2" r="3.2"/>
<circle cx="716.3" cy="1514.2" r="3.2"/>
<circle cx="674.9" cy="1520.4" r="3.2"/>
<circle cx="685.3" cy="1523.5" r="3.2"/>
<circle cx="693.6" cy="1522.5" r="3.2"/>
<circle cx="700.8" cy="1523.5" r="3.2"/>
<circle cx="711.2" cy="1524.6" r="3.2"/>
<circle cx="721.5" cy="1524.6" r="3.2"/>
<circle cx="688.4" cy="1529.8" r="3.2"/>
<circle cx="699.8" cy="1530.8" r="3.2"/>
<circle cx="716.3" cy="1533.9" r="3.2"/>
<circle cx="724.6" cy="1534.9" r="3.2"/>
<circle cx="641.8" cy="1517.8" r="3.2"/>
<circle cx="543.5" cy="1517.3" r="3.2"/>
<circle cx="556.9" cy="1525.6" r="3.2"/>
<circle cx="591.1" cy="1524.6" r="3.2"/>
<circle cx="561.1" cy="1536" r="3.2"/>
<circle cx="596.3" cy="1532.9" r="3.2"/>
<circle cx="610.7" cy="1532.9" r="3.2"/>
<circle cx="618" cy="1534.9" r="3.2"/>
<circle cx="626.3" cy="1534.9" r="3.2"/>
<circle cx="654.2" cy="1532.9" r="3.2"/>
<circle cx="690" cy="1478.3" r="3.2"/>
<circle cx="727.3" cy="1514.5" r="3.2"/>
<circle cx="724.4" cy="1517.8" r="3.2"/>
<circle cx="703.9" cy="1518.6" r="3.2"/>
<circle cx="718.6" cy="1524.4" r="3.2"/>
<circle cx="707.6" cy="1533.2" r="3.2"/>
<circle cx="731.7" cy="1534.7" r="3.2"/>
<circle cx="739.1" cy="1535.4" r="3.2"/>
<circle cx="696.6" cy="1520" r="3.2"/>
<circle cx="693.3" cy="1542.4" r="3.2"/>
<circle cx="690" cy="1548.9" r="3.2"/>
<circle cx="677.6" cy="1566.1" r="3.2"/>
<circle cx="702.8" cy="1575.7" r="3.2"/>
<circle cx="733.9" cy="1574.6" r="3.2"/>
<circle cx="532.7" cy="1555.1" r="3.2"/>
<circle cx="501.8" cy="1577.3" r="3.2"/>
<circle cx="558.8" cy="1589.4" r="3.2"/>
<circle cx="638" cy="1587.8" r="3.2"/>
<circle cx="685.7" cy="1608" r="3.2"/>
<circle cx="676.3" cy="1633.2" r="3.2"/>
<circle cx="503.4" cy="1626.6" r="3.2"/>
<circle cx="553" cy="1713.9" r="3.2"/>
<circle cx="592.2" cy="1545.7" r="3.2"/>
<circle cx="618.6" cy="1555.1" r="3.2"/>
<circle cx="614.4" cy="1789.3" r="3.2"/>
<circle cx="602" cy="1798.1" r="3.2"/>
</g>
<rect x="382.5" y="1222.4" width="17" height="17" fill="#3f51b5" stroke="#2a3a90" stroke-width="1"/>
<rect x="514.7" y="1346.1" width="17" height="17" fill="#3f51b5" stroke="#2a3a90" stroke-width="1"/>
<rect x="611.4" y="1226.3" width="18" height="18" fill="#ff0000" stroke="#c40000" stroke-width="1"/>
<rect x="555.2" y="1282.4" width="18" height="18" fill="#ff0000" stroke="#c40000" stroke-width="1"/>
<rect x="595.5" y="1315.2" width="18" height="18" fill="#ff0000" stroke="#c40000" stroke-width="1"/>
<rect x="571" y="1335.4" width="18" height="18" fill="#ff0000" stroke="#c40000" stroke-width="1"/>
<rect x="641.1" y="1346.1" width="18" height="18" fill="#ff0000" stroke="#c40000" stroke-width="1"/>
<rect x="587.8" y="1370.9" width="18" height="18" fill="#ff0000" stroke="#c40000" stroke-width="1"/>
<rect x="409.1" y="1446.7" width="17" height="17" fill="#3f51b5" stroke="#2a3a90" stroke-width="1"/>
<rect x="463.5" y="1418.8" width="17" height="17" fill="#3f51b5" stroke="#2a3a90" stroke-width="1"/>
<rect x="482.1" y="1421.9" width="17" height="17" fill="#3f51b5" stroke="#2a3a90" stroke-width="1"/>
<rect x="453.7" y="1460.2" width="17" height="17" fill="#3f51b5" stroke="#2a3a90" stroke-width="1"/>
<rect x="462.5" y="1452.9" width="17" height="17" fill="#3f51b5" stroke="#2a3a90" stroke-width="1"/>
<rect x="468.1" y="1463.3" width="17" height="17" fill="#3f51b5" stroke="#2a3a90" stroke-width="1"/>
<rect x="452.6" y="1475.7" width="17" height="17" fill="#3f51b5" stroke="#2a3a90" stroke-width="1"/>
<rect x="460.9" y="1479.8" width="17" height="17" fill="#3f51b5" stroke="#2a3a90" stroke-width="1"/>
<rect x="472.3" y="1493.3" width="17" height="17" fill="#3f51b5" stroke="#2a3a90" stroke-width="1"/>
<rect x="488.8" y="1493.3" width="17" height="17" fill="#3f51b5" stroke="#2a3a90" stroke-width="1"/>
<rect x="504.4" y="1460.2" width="17" height="17" fill="#3f51b5" stroke="#2a3a90" stroke-width="1"/>
<rect x="504.4" y="1472.6" width="17" height="17" fill="#3f51b5" stroke="#2a3a90" stroke-width="1"/>
<rect x="520.9" y="1474.7" width="17" height="17" fill="#3f51b5" stroke="#2a3a90" stroke-width="1"/>
<rect x="510.6" y="1546.1" width="17" height="17" fill="#3f51b5" stroke="#2a3a90" stroke-width="1"/>
<rect x="527.2" y="1393.4" width="18" height="18" fill="#ff0000" stroke="#c40000" stroke-width="1"/>
<rect x="587.8" y="1402.2" width="18" height="18" fill="#ff0000" stroke="#c40000" stroke-width="1"/>
<rect x="612.6" y="1398.1" width="18" height="18" fill="#ff0000" stroke="#c40000" stroke-width="1"/>
<rect x="559.8" y="1426" width="18" height="18" fill="#ff0000" stroke="#c40000" stroke-width="1"/>
<rect x="531.4" y="1449.3" width="18" height="18" fill="#ff0000" stroke="#c40000" stroke-width="1"/>
<rect x="628.1" y="1445.7" width="18" height="18" fill="#ff0000" stroke="#c40000" stroke-width="1"/>
<rect x="645.2" y="1455" width="18" height="18" fill="#ff0000" stroke="#c40000" stroke-width="1"/>
<rect x="656.6" y="1466.9" width="18" height="18" fill="#ff0000" stroke="#c40000" stroke-width="1"/>
<rect x="599.2" y="1469.5" width="18" height="18" fill="#ff0000" stroke="#c40000" stroke-width="1"/>
<rect x="580" y="1489.7" width="18" height="18" fill="#ff0000" stroke="#c40000" stroke-width="1"/>
<rect x="457.1" y="1571.4" width="17" height="17" fill="#3f51b5" stroke="#2a3a90" stroke-width="1"/>
<rect x="539.4" y="1580.4" width="18" height="18" fill="#ff0000" stroke="#c40000" stroke-width="1"/>
<rect x="598.7" y="1569.5" width="18" height="18" fill="#ff0000" stroke="#c40000" stroke-width="1"/>
<rect x="455.4" y="1627" width="18" height="18" fill="#ff0000" stroke="#c40000" stroke-width="1"/>
<rect x="670.4" y="1704.1" width="18" height="18" fill="#ff0000" stroke="#c40000" stroke-width="1"/>
<rect x="551.6" y="1794.8" width="18" height="18" fill="#ff0000" stroke="#c40000" stroke-width="1"/>
<g font-size="14">
<text x="380.8" y="1288.7">3.59</text>
<text x="409.3" y="1288.1">3.31</text>
<text x="534.5" y="1235.9">3.43</text>
<text x="531.4" y="1253">3.47</text>
<text x="542.8" y="1265.4">3.37</text>
<text x="509.7" y="1270.5">3.51</text>
<text x="519" y="1298">5.23</text>
<text x="505.5" y="1314">3.71</text>
<text x="425.8" y="1322.8">3.11</text>
<text x="402.5" y="1335.8">3.07</text>
<text x="434.1" y="1334.2">2.55</text>
<text x="470.4" y="1336.8">8.15</text>
<text x="422.7" y="1346.6">0.96</text>
<text x="428.9" y="1352.8">3.63</text>
<text x="464.7" y="1349.2">3.79</text>
<text x="534.5" y="1339.9">2.95</text>
<text x="498.8" y="1356">1.72</text>
<text x="477.1" y="1360.1">2.19</text>
<text x="485.9" y="1367.9">0.92</text>
<text x="493.1" y="1375.6">1.60</text>
<text x="463.1" y="1374.1">1.78</text>
<text x="456.4" y="1377.7">2.17</text>
<text x="462.1" y="1380.3">1.64</text>
<text x="514.3" y="1384.9">1.56</text>
<text x="438.3" y="1387">1.80</text>
<text x="460" y="1389.6">1.84</text>
<text x="399.4" y="1393.7">2.59</text>
<text x="673.3" y="1287.1">3.75</text>
<text x="687.3" y="1300.1">3.83</text>
<text x="684.2" y="1349.7">2.47</text>
<text x="548" y="1352.8">7.06</text>
<text x="636" y="1366.8">2.15</text>
<text x="612.7" y="1375.6">2.75</text>
<text x="671.7" y="1388.6">8.31</text>
<text x="584.8" y="1399.4">2.59</text>
<text x="614.3" y="1399.9">3.27</text>
<text x="444.5" y="1402.8">1.52</text>
<text x="377.2" y="1415.2">1.04</text>
<text x="376.2" y="1436.9">2.87</text>
<text x="388.6" y="1454.5">3.68</text>
<text x="488" y="1419.8">1.04</text>
<text x="506.6" y="1419.8">8.23</text>
<text x="471.9" y="1427.6">2.67</text>
<text x="508.1" y="1429.2">7.47</text>
<text x="526.3" y="1430.2">7.99</text>
<text x="461.6" y="1452.5">3.91</text>
<text x="490" y="1451.4">1.40</text>
<text x="482.8" y="1484">4.19</text>
<text x="472.4" y="1498.5">7.03</text>
<text x="433.6" y="1486.6">6.87</text>
<text x="442.9" y="1500.6">2.37</text>
<text x="386.5" y="1507.3">7.71</text>
<text x="409.3" y="1507.3">7.15</text>
<text x="512.8" y="1517.7">2.99</text>
<text x="425.3" y="1525.4">8.59</text>
<text x="430.5" y="1532.2">8.39</text>
<text x="467.8" y="1547.2">7.67</text>
<text x="447.6" y="1561.7">1.44</text>
<text x="381.8" y="1567.4">1.92</text>
<text x="527.3" y="1537.9">8.27</text>
<text x="563" y="1410.5">7.79</text>
<text x="578.6" y="1416.7">7.99</text>
<text x="662.4" y="1423">2.79</text>
<text x="629.3" y="1425.5">2.43</text>
<text x="667.6" y="1426.1">7.23</text>
<text x="597.2" y="1428.1">3.67</text>
<text x="713.1" y="1429.2">8.19</text>
<text x="676.9" y="1436.4">6.99</text>
<text x="675.9" y="1442.1">2.00</text>
<text x="720.4" y="1443.1">7.35</text>
<text x="592" y="1447.8">0.80</text>
<text x="610.7" y="1450.9">2.03</text>
<text x="621" y="1451.9">7.03</text>
<text x="666" y="1450.9">6.23</text>
<text x="712.1" y="1456.1">6.07</text>
<text x="572.4" y="1459.2">0.64</text>
<text x="596.2" y="1462.3">1.16</text>
<text x="612.7" y="1461.3">6.39</text>
<text x="702.8" y="1461.3">7.31</text>
<text x="693.5" y="1469.5">6.27</text>
<text x="551.7" y="1472.6">1.20</text>
<text x="590" y="1473.7">6.63</text>
<text x="626.2" y="1473.7">6.47</text>
<text x="646.9" y="1476.8">7.43</text>
<text x="650" y="1482">3.23</text>
<text x="554.8" y="1488.2">0.72</text>
<text x="592.5" y="1491.3">6.55</text>
<text x="632.4" y="1489.7">6.43</text>
<text x="678" y="1490.8">5.15</text>
<text x="726.6" y="1492.8">6.11</text>
<text x="614.8" y="1499.6">6.63</text>
<text x="617.9" y="1502.7">2.91</text>
<text x="575.5" y="1506.8">6.75</text>
<text x="629.8" y="1507.8">6.30</text>
<text x="661.9" y="1508.4">6.03</text>
<text x="733.9" y="1507.8">5.63</text>
<text x="686.2" y="1515.1">5.99</text>
<text x="724.5" y="1519.2">5.59</text>
<text x="729.7" y="1529.6">5.55</text>
<text x="732.8" y="1539.9">5.51</text>
<text x="650" y="1522.8">6.57</text>
<text x="551.7" y="1522.3">4.35</text>
<text x="565.1" y="1530.6">4.31</text>
<text x="599.3" y="1529.6">8.63</text>
<text x="569.3" y="1541">1.12</text>
<text x="604.5" y="1537.9">3.35</text>
<text x="626.2" y="1539.9">3.03</text>
<text x="634.5" y="1539.9">8.59</text>
<text x="662.4" y="1537.9">6.95</text>
<text x="698.2" y="1483.3">7.39</text>
<text x="735.5" y="1519.5">7.11</text>
<text x="726.8" y="1529.4">5.55</text>
<text x="701.5" y="1547.4">2.79</text>
<text x="698.2" y="1553.9">5.79</text>
<text x="685.8" y="1571.1">5.87</text>
<text x="711" y="1580.7">2.89</text>
<text x="742.1" y="1579.6">5.39</text>
<text x="540.9" y="1560.1">7.63</text>
<text x="510" y="1582.3">2.07</text>
<text x="567" y="1594.4">1.36</text>
<text x="646.2" y="1592.8">6.57</text>
<text x="693.9" y="1613">5.43</text>
<text x="684.5" y="1638.2">2.04</text>
<text x="511.6" y="1631.6">1.08</text>
<text x="561.2" y="1718.9">2.35</text>
<text x="600.4" y="1550.7">1.24</text>
<text x="626.8" y="1560.1">7.51</text>
<text x="622.6" y="1794.3">4.11</text>
<text x="610.2" y="1803.1">1.32</text>
</g>
<g font-size="20.5">
<circle cx="344.7" cy="1269.7" r="7"/>
<text x="359.4" y="1277">3.23</text>
<circle cx="340" cy="1388.2" r="7"/>
<text x="354.7" y="1395.5">3.35</text>
<circle cx="346.2" cy="1449" r="7"/>
<text x="360.9" y="1456.3">1.88</text>
<circle cx="355" cy="1497.1" r="7"/>
<text x="369.7" y="1504.4">3.19</text>
<circle cx="754.7" cy="1317.8" r="7"/>
<text x="769.4" y="1325.1">5.31</text>
<circle cx="769.7" cy="1343.7" r="7"/>
<text x="784.4" y="1351">5.27</text>
<circle cx="778" cy="1352" r="7"/>
<text x="792.7" y="1359.3">1.28</text>
<circle cx="720" cy="1355.6" r="7"/>
<text x="734.7" y="1362.9">0.88</text>
<circle cx="763.5" cy="1415.6" r="7"/>
<text x="778.2" y="1422.9">5.35</text>
<circle cx="734.3" cy="1481.2" r="7"/>
<text x="749" y="1488.5">5.19</text>
</g>
<text transform="translate(220.7 1243.3) scale(1 1.085)" font-size="35.5">Pc/Gpc</text>
<text transform="translate(220.7 1372.7) scale(1 1.085)" font-size="35.5">MeOH</text>
<text transform="translate(214.7 1454.5) scale(1 1.085)" font-size="35.5">Ace</text>
<text transform="translate(218.2 1522.8) scale(1 1.085)" font-size="35.5">Cho</text>
<text transform="translate(741.8 1279.5) scale(1 1.085)" font-size="35.5">sFA</text>
<text transform="translate(825.9 1394.4) scale(1 1.085)" font-size="35.5">uFA</text>
<text transform="translate(805.7 1523.8) scale(1 1.085)" font-size="35.5">Glc</text>
<g stroke="#7a7a7a" stroke-width="2" fill="none">
<line x1="126.6" y1="1884.4" x2="126.6" y2="1061.8"/>
<line x1="119.6" y1="1883.4" x2="937" y2="1883.4"/>
<line x1="195.7" y1="1883.4" x2="195.7" y2="1890.9"/>
<line x1="368.2" y1="1883.4" x2="368.2" y2="1890.9"/>
<line x1="540.7" y1="1883.4" x2="540.7" y2="1890.9"/>
<line x1="713.2" y1="1883.4" x2="713.2" y2="1890.9"/>
<line x1="885.7" y1="1883.4" x2="885.7" y2="1890.9"/>
<line x1="282" y1="1883.4" x2="282" y2="1888.4"/>
<line x1="454.5" y1="1883.4" x2="454.5" y2="1888.4"/>
<line x1="627" y1="1883.4" x2="627" y2="1888.4"/>
<line x1="799.5" y1="1883.4" x2="799.5" y2="1888.4"/>
<line x1="119.1" y1="1813.6" x2="126.6" y2="1813.6"/>
<line x1="119.1" y1="1638.8" x2="126.6" y2="1638.8"/>
<line x1="119.1" y1="1463.9" x2="126.6" y2="1463.9"/>
<line x1="119.1" y1="1289.1" x2="126.6" y2="1289.1"/>
<line x1="119.1" y1="1114.2" x2="126.6" y2="1114.2"/>
<line x1="121.6" y1="1726.2" x2="126.6" y2="1726.2"/>
<line x1="121.6" y1="1551.3" x2="126.6" y2="1551.3"/>
<line x1="121.6" y1="1376.5" x2="126.6" y2="1376.5"/>
<line x1="121.6" y1="1201.6" x2="126.6" y2="1201.6"/>
</g>
<path d="M126.6 1043.8 L121.1 1064.8 L132.1 1064.8 Z" fill="#7a7a7a"/>
<path d="M955 1883.4 L934 1877.9 L934 1888.9 Z" fill="#7a7a7a"/>
<g>
<text transform="translate(195.7 1929.4) scale(1 1.08)" font-size="34.5" text-anchor="middle">-1</text>
<text transform="translate(362.7 1929.4) scale(1 1.08)" font-size="34.5" text-anchor="middle">-0.5</text>
<text transform="translate(540.7 1929.4) scale(1 1.08)" font-size="34.5" text-anchor="middle">0</text>
<text transform="translate(714.7 1929.4) scale(1 1.08)" font-size="34.5" text-anchor="middle">0.5</text>
<text transform="translate(885.7 1929.4) scale(1 1.08)" font-size="34.5" text-anchor="middle">1</text>
<text transform="translate(112.3 1828) scale(1 1.08)" font-size="34.5" text-anchor="end">-1</text>
<text transform="translate(112.3 1653.1) scale(1 1.08)" font-size="34.5" text-anchor="end">-0.5</text>
<text transform="translate(112.3 1478.3) scale(1 1.08)" font-size="34.5" text-anchor="end">0</text>
<text transform="translate(112.3 1303.4) scale(1 1.08)" font-size="34.5" text-anchor="end">0.5</text>
<text transform="translate(112.3 1128.6) scale(1 1.08)" font-size="34.5" text-anchor="end">1</text>
</g>
<text x="534.9" y="1970" font-size="33.3" text-anchor="middle">p(corr)[1], t(corr)[1]</text>
<text transform="translate(26.4 1472.8) rotate(-90)" x="0" y="0" font-size="34.2" text-anchor="middle">po(corr)[1], to(corr)[1]</text>
<text x="145.6" y="1863.4" font-size="51">C</text>
<text x="232.5" y="1079" font-size="35">SMD</text>
<text x="797" y="1079" font-size="35">AD</text>
<g id="pD">
<rect x="1163.8" y="1042.4" width="835.2" height="840.9" fill="#f4f4f4"/>
<ellipse cx="1581" cy="1462.5" rx="278.3" ry="280.6" fill="#fff"/>
<line x1="1302.7" y1="1042.4" x2="1302.7" y2="1883.3" stroke="#cfcfcf" stroke-width="1.2"/>
<line x1="1441.8" y1="1042.4" x2="1441.8" y2="1883.3" stroke="#cfcfcf" stroke-width="1.2"/>
<line x1="1720.2" y1="1042.4" x2="1720.2" y2="1883.3" stroke="#cfcfcf" stroke-width="1.2"/>
<line x1="1859.3" y1="1042.4" x2="1859.3" y2="1883.3" stroke="#cfcfcf" stroke-width="1.2"/>
<line x1="1163.8" y1="1743.1" x2="1999" y2="1743.1" stroke="#cfcfcf" stroke-width="1.2"/>
<line x1="1163.8" y1="1602.8" x2="1999" y2="1602.8" stroke="#cfcfcf" stroke-width="1.2"/>
<line x1="1163.8" y1="1322.2" x2="1999" y2="1322.2" stroke="#cfcfcf" stroke-width="1.2"/>
<line x1="1163.8" y1="1181.9" x2="1999" y2="1181.9" stroke="#cfcfcf" stroke-width="1.2"/>
<ellipse cx="1581" cy="1462.5" rx="278.3" ry="280.6" fill="none" stroke="#555555" stroke-width="1.5"/>
<ellipse cx="1581" cy="1462.5" rx="208.7" ry="210.5" fill="none" stroke="#8f8f8f" stroke-width="1.5"/>
<ellipse cx="1581" cy="1462.5" rx="139.2" ry="140.3" fill="none" stroke="#8f8f8f" stroke-width="1.5"/>
<line x1="1581" y1="1042.4" x2="1581" y2="1883.3" stroke="#6e6e6e" stroke-width="1.6"/>
<line x1="1163.8" y1="1462.5" x2="1999" y2="1462.5" stroke="#6e6e6e" stroke-width="1.6"/>
</g>
<g fill="none" stroke="#000" stroke-width="1.5">
<circle cx="1531.5" cy="1212.3" r="7.3"/>
<circle cx="1532.9" cy="1216.3" r="7.3"/>
<circle cx="1530.2" cy="1217.7" r="7.3"/>
<circle cx="1534.2" cy="1220.4" r="7.3"/>
<circle cx="1513.4" cy="1223.1" r="7.3"/>
<circle cx="1521.4" cy="1237.2" r="7.3"/>
<circle cx="1590.1" cy="1230.5" r="7.3"/>
<circle cx="1590.1" cy="1245.3" r="7.3"/>
<circle cx="1514" cy="1274.2" r="7.3"/>
<circle cx="1462.3" cy="1293.4" r="7.3"/>
<circle cx="1510.7" cy="1295.1" r="7.3"/>
<circle cx="1621.7" cy="1350.3" r="7.3"/>
<circle cx="1485.8" cy="1358.2" r="7.3"/>
<circle cx="1501.2" cy="1355.4" r="7.3"/>
<circle cx="1497.7" cy="1374.2" r="7.3"/>
<circle cx="1453.9" cy="1386.7" r="7.3"/>
<circle cx="1463.6" cy="1394.7" r="7.3"/>
<circle cx="1426.6" cy="1425.4" r="7.3"/>
<circle cx="1452.8" cy="1425.4" r="7.3"/>
<circle cx="1475.5" cy="1417.4" r="7.3"/>
<circle cx="1470.4" cy="1428.8" r="7.3"/>
<circle cx="1531.3" cy="1422" r="7.3"/>
<circle cx="1547.3" cy="1409.5" r="7.3"/>
<circle cx="1522.2" cy="1433.4" r="7.3"/>
<circle cx="1524.5" cy="1436.8" r="7.3"/>
<circle cx="1448.2" cy="1447.1" r="7.3"/>
<circle cx="1467.6" cy="1445.9" r="7.3"/>
<circle cx="1506.3" cy="1439.1" r="7.3"/>
<circle cx="1510.8" cy="1449.3" r="7.3"/>
<circle cx="1452.8" cy="1464.1" r="7.3"/>
<circle cx="1474.4" cy="1466.4" r="7.3"/>
<circle cx="1504" cy="1481.2" r="7.3"/>
<circle cx="1515.4" cy="1486.9" r="7.3"/>
<circle cx="1526.8" cy="1480.1" r="7.3"/>
<circle cx="1537" cy="1482.4" r="7.3"/>
<circle cx="1542.7" cy="1493.8" r="7.3"/>
<circle cx="1663.6" cy="1375.3" r="7.3"/>
<circle cx="1671.5" cy="1396.9" r="7.3"/>
<circle cx="1701.2" cy="1402.6" r="7.3"/>
<circle cx="1727.9" cy="1412.9" r="7.3"/>
<circle cx="1573.6" cy="1394.7" r="7.3"/>
<circle cx="1584.4" cy="1393.5" r="7.3"/>
<circle cx="1664.1" cy="1422" r="7.3"/>
<circle cx="1664.1" cy="1426.6" r="7.3"/>
<circle cx="1698.3" cy="1461.9" r="7.3"/>
<circle cx="1705.1" cy="1466.4" r="7.3"/>
<circle cx="1713.1" cy="1476.7" r="7.3"/>
<circle cx="1688.1" cy="1448.2" r="7.3"/>
<circle cx="1464.9" cy="1502.2" r="7.3"/>
<circle cx="1485.4" cy="1493.7" r="7.3"/>
<circle cx="1490.5" cy="1510.8" r="7.3"/>
<circle cx="1429" cy="1522.1" r="7.3"/>
<circle cx="1441.6" cy="1522.1" r="7.3"/>
<circle cx="1497.9" cy="1527.8" r="7.3"/>
<circle cx="1468.3" cy="1550.6" r="7.3"/>
<circle cx="1528.7" cy="1575.7" r="7.3"/>
<circle cx="1470" cy="1591" r="7.3"/>
<circle cx="1538.4" cy="1612.7" r="7.3"/>
<circle cx="1568" cy="1601.3" r="7.3"/>
<circle cx="1581.1" cy="1564.3" r="7.3"/>
<circle cx="1601.6" cy="1580.2" r="7.3"/>
<circle cx="1607.3" cy="1580.2" r="7.3"/>
<circle cx="1561.7" cy="1547.2" r="7.3"/>
<circle cx="1554.9" cy="1522.1" r="7.3"/>
<circle cx="1537.8" cy="1498.2" r="7.3"/>
<circle cx="1735.5" cy="1567.1" r="7.3"/>
<circle cx="1743.5" cy="1568.2" r="7.3"/>
<circle cx="1661.5" cy="1557.9" r="7.3"/>
<circle cx="1687.7" cy="1544.3" r="7.3"/>
<circle cx="1685.4" cy="1577.3" r="7.3"/>
<circle cx="1641.6" cy="1575" r="7.3"/>
<circle cx="1714.5" cy="1589.8" r="7.3"/>
<circle cx="1734.4" cy="1534" r="7.3"/>
<circle cx="1746.9" cy="1516.9" r="7.3"/>
<circle cx="1742.4" cy="1528.3" r="7.3"/>
<circle cx="1654.8" cy="1660.2" r="7.3"/>
<circle cx="1695.8" cy="1696.1" r="7.3"/>
<circle cx="1690.2" cy="1706.3" r="7.3"/>
<circle cx="1622.2" cy="1410.6" r="7.3"/>
<circle cx="1659.9" cy="1405.1" r="7.3"/>
<circle cx="1646.6" cy="1425.6" r="7.3"/>
<circle cx="1591.7" cy="1435.5" r="7.3"/>
<circle cx="1589.3" cy="1430.4" r="7.3"/>
<circle cx="1593" cy="1406.3" r="7.3"/>
<circle cx="1633.8" cy="1457.9" r="7.3"/>
<circle cx="1599.2" cy="1415.6" r="7.3"/>
<circle cx="1657.2" cy="1466.3" r="7.3"/>
<circle cx="1651.4" cy="1427.8" r="7.3"/>
<circle cx="1697.3" cy="1403.3" r="7.3"/>
<circle cx="1683.7" cy="1420.3" r="7.3"/>
<circle cx="1601.6" cy="1408.2" r="7.3"/>
<circle cx="1620.5" cy="1457.1" r="7.3"/>
<circle cx="1605.8" cy="1440.7" r="7.3"/>
<circle cx="1658.5" cy="1426.1" r="7.3"/>
<circle cx="1648" cy="1404.4" r="7.3"/>
<circle cx="1591.9" cy="1414.4" r="7.3"/>
<circle cx="1663.2" cy="1429.9" r="7.3"/>
<circle cx="1621.1" cy="1441" r="7.3"/>
<circle cx="1637.1" cy="1421" r="7.3"/>
<circle cx="1676.4" cy="1448.9" r="7.3"/>
<circle cx="1613.1" cy="1440.2" r="7.3"/>
<circle cx="1645.4" cy="1461.3" r="7.3"/>
<circle cx="1668.9" cy="1420.2" r="7.3"/>
<circle cx="1697.7" cy="1408.3" r="7.3"/>
<circle cx="1633.1" cy="1453" r="7.3"/>
<circle cx="1602.5" cy="1434.2" r="7.3"/>
<circle cx="1589.5" cy="1446.8" r="7.3"/>
<circle cx="1672.9" cy="1440.1" r="7.3"/>
<circle cx="1665" cy="1441.6" r="7.3"/>
<circle cx="1651.7" cy="1431.9" r="7.3"/>
<circle cx="1681.6" cy="1466.1" r="7.3"/>
<circle cx="1639.5" cy="1446.5" r="7.3"/>
<circle cx="1592" cy="1449.1" r="7.3"/>
<circle cx="1659.4" cy="1469.5" r="7.3"/>
<circle cx="1679.5" cy="1419.9" r="7.3"/>
<circle cx="1629.4" cy="1446.8" r="7.3"/>
<circle cx="1604.3" cy="1408.2" r="7.3"/>
<circle cx="1591.8" cy="1453.8" r="7.3"/>
<circle cx="1630" cy="1461" r="7.3"/>
<circle cx="1594.3" cy="1431.4" r="7.3"/>
<circle cx="1682.4" cy="1535.7" r="7.3"/>
<circle cx="1722.9" cy="1534.1" r="7.3"/>
<circle cx="1641.8" cy="1498.2" r="7.3"/>
<circle cx="1653.8" cy="1535.7" r="7.3"/>
<circle cx="1743.7" cy="1477.1" r="7.3"/>
<circle cx="1626.4" cy="1483.6" r="7.3"/>
<circle cx="1635" cy="1503.8" r="7.3"/>
<circle cx="1688.4" cy="1486" r="7.3"/>
<circle cx="1600.6" cy="1498.5" r="7.3"/>
<circle cx="1655.4" cy="1510.3" r="7.3"/>
<circle cx="1743" cy="1520.2" r="7.3"/>
<circle cx="1677.3" cy="1514.4" r="7.3"/>
<circle cx="1701.4" cy="1469.3" r="7.3"/>
<circle cx="1734.9" cy="1527.4" r="7.3"/>
<circle cx="1731.2" cy="1528.8" r="7.3"/>
<circle cx="1658.9" cy="1496.9" r="7.3"/>
<circle cx="1615.5" cy="1515.7" r="7.3"/>
<circle cx="1609.3" cy="1470.4" r="7.3"/>
<circle cx="1631.3" cy="1478" r="7.3"/>
<circle cx="1651" cy="1469.2" r="7.3"/>
<circle cx="1600" cy="1477.1" r="7.3"/>
<circle cx="1615.2" cy="1494.1" r="7.3"/>
<circle cx="1603.8" cy="1534.9" r="7.3"/>
<circle cx="1692.1" cy="1476.9" r="7.3"/>
<circle cx="1637.8" cy="1492.8" r="7.3"/>
<circle cx="1654.6" cy="1474.8" r="7.3"/>
<circle cx="1727.3" cy="1544.4" r="7.3"/>
<circle cx="1669.9" cy="1503.7" r="7.3"/>
<circle cx="1612.9" cy="1473.2" r="7.3"/>
<circle cx="1651.4" cy="1486.2" r="7.3"/>
<circle cx="1724.3" cy="1477.9" r="7.3"/>
<circle cx="1603.5" cy="1541.1" r="7.3"/>
<circle cx="1679.2" cy="1476.7" r="7.3"/>
<circle cx="1679.2" cy="1543.3" r="7.3"/>
<circle cx="1729.5" cy="1520.7" r="7.3"/>
<circle cx="1625.1" cy="1526.8" r="7.3"/>
<circle cx="1679.9" cy="1527.3" r="7.3"/>
<circle cx="1649.4" cy="1482.8" r="7.3"/>
<circle cx="1721.7" cy="1543.8" r="7.3"/>
<circle cx="1727.9" cy="1529.5" r="7.3"/>
<circle cx="1722.7" cy="1524.2" r="7.3"/>
<circle cx="1634" cy="1506.4" r="7.3"/>
<circle cx="1604.2" cy="1487.4" r="7.3"/>
<circle cx="1638.9" cy="1520.4" r="7.3"/>
<circle cx="1743.5" cy="1500.8" r="7.3"/>
<circle cx="1740.6" cy="1544" r="7.3"/>
<circle cx="1743.3" cy="1494.2" r="7.3"/>
<circle cx="1633.1" cy="1483.1" r="7.3"/>
<circle cx="1629.5" cy="1481.3" r="7.3"/>
<circle cx="1693.6" cy="1537" r="7.3"/>
<circle cx="1726.1" cy="1503.4" r="7.3"/>
<circle cx="1697.9" cy="1529" r="7.3"/>
<circle cx="1612.7" cy="1517.8" r="7.3"/>
<circle cx="1712.5" cy="1503.2" r="7.3"/>
<circle cx="1649.9" cy="1529.1" r="7.3"/>
<circle cx="1745.7" cy="1496.7" r="7.3"/>
<circle cx="1660.2" cy="1540.7" r="7.3"/>
<circle cx="1708.7" cy="1478.6" r="7.3"/>
<circle cx="1619.1" cy="1477.1" r="7.3"/>
<circle cx="1621.9" cy="1531.1" r="7.3"/>
<circle cx="1652.6" cy="1508.9" r="7.3"/>
<circle cx="1619.6" cy="1466.1" r="7.3"/>
<circle cx="1571.6" cy="1536.7" r="7.3"/>
<circle cx="1566" cy="1529" r="7.3"/>
<circle cx="1555.1" cy="1456.6" r="7.3"/>
<circle cx="1554.4" cy="1493.3" r="7.3"/>
<circle cx="1555.6" cy="1472.4" r="7.3"/>
<circle cx="1547.9" cy="1533.8" r="7.3"/>
<circle cx="1561.2" cy="1477.3" r="7.3"/>
<circle cx="1575" cy="1533" r="7.3"/>
<circle cx="1565.2" cy="1534.7" r="7.3"/>
<circle cx="1570.1" cy="1486.5" r="7.3"/>
<circle cx="1571.4" cy="1422.3" r="7.3"/>
<circle cx="1566.4" cy="1442.9" r="7.3"/>
<circle cx="1540.2" cy="1519.9" r="7.3"/>
<circle cx="1550.3" cy="1479.2" r="7.3"/>
<circle cx="1583.5" cy="1489.6" r="7.3"/>
<circle cx="1559.6" cy="1484.8" r="7.3"/>
<circle cx="1573.3" cy="1518" r="7.3"/>
<circle cx="1546.4" cy="1490" r="7.3"/>
<circle cx="1586.3" cy="1483.5" r="7.3"/>
<circle cx="1573.7" cy="1515" r="7.3"/>
<circle cx="1594.7" cy="1475.4" r="7.3"/>
<circle cx="1576.8" cy="1483.2" r="7.3"/>
<circle cx="1570.7" cy="1506.6" r="7.3"/>
<circle cx="1567.1" cy="1486.7" r="7.3"/>
<circle cx="1568.7" cy="1537.7" r="7.3"/>
<circle cx="1582" cy="1529.6" r="7.3"/>
<circle cx="1596.5" cy="1452.4" r="7.3"/>
<circle cx="1533" cy="1426.7" r="7.3"/>
<circle cx="1479.1" cy="1452.6" r="7.3"/>
<circle cx="1475.4" cy="1435.5" r="7.3"/>
<circle cx="1475.5" cy="1471.9" r="7.3"/>
<circle cx="1528.8" cy="1491.2" r="7.3"/>
<circle cx="1481.6" cy="1475.9" r="7.3"/>
<circle cx="1519.5" cy="1427.2" r="7.3"/>
<circle cx="1499.9" cy="1456.4" r="7.3"/>
<circle cx="1544.2" cy="1485.8" r="7.3"/>
<circle cx="1482.1" cy="1451.7" r="7.3"/>
<circle cx="1508.7" cy="1443.8" r="7.3"/>
<circle cx="1484.7" cy="1442.1" r="7.3"/>
<circle cx="1524.2" cy="1416.7" r="7.3"/>
<circle cx="1511.6" cy="1452.4" r="7.3"/>
<circle cx="1471.4" cy="1443.2" r="7.3"/>
<circle cx="1516.8" cy="1458.5" r="7.3"/>
<circle cx="1474.8" cy="1498.7" r="7.3"/>
<circle cx="1529.1" cy="1497.6" r="7.3"/>
<circle cx="1477.9" cy="1437.6" r="7.3"/>
<circle cx="1473" cy="1481.2" r="7.3"/>
<circle cx="1490.3" cy="1426" r="7.3"/>
<circle cx="1501.7" cy="1492.5" r="7.3"/>
<circle cx="1531.4" cy="1437" r="7.3"/>
<circle cx="1437.5" cy="1526" r="7.3"/>
<circle cx="1458.5" cy="1515" r="7.3"/>
<circle cx="1434.5" cy="1482.9" r="7.3"/>
<circle cx="1433.6" cy="1526.9" r="7.3"/>
<circle cx="1461.7" cy="1520.1" r="7.3"/>
<circle cx="1434.2" cy="1522.8" r="7.3"/>
<circle cx="1452.7" cy="1497" r="7.3"/>
<circle cx="1457.7" cy="1526.3" r="7.3"/>
<circle cx="1584.1" cy="1545.2" r="7.3"/>
<circle cx="1607.4" cy="1549.5" r="7.3"/>
<circle cx="1569.9" cy="1546.5" r="7.3"/>
<circle cx="1564.5" cy="1548.1" r="7.3"/>
<circle cx="1588.1" cy="1552.2" r="7.3"/>
<circle cx="1628.4" cy="1551.6" r="7.3"/>
<circle cx="1591.2" cy="1540.7" r="7.3"/>
<circle cx="1582.5" cy="1540.6" r="7.3"/>
<circle cx="1626" cy="1562" r="7.3"/>
<circle cx="1577.1" cy="1559" r="7.3"/>
<circle cx="1644.1" cy="1544.3" r="7.3"/>
<circle cx="1633.7" cy="1557.3" r="7.3"/>
<circle cx="1604.6" cy="1573.4" r="7.3"/>
<circle cx="1671.1" cy="1512.9" r="7.3"/>
<circle cx="1709.4" cy="1543.9" r="7.3"/>
<circle cx="1664.6" cy="1534.1" r="7.3"/>
<circle cx="1711.9" cy="1521.3" r="7.3"/>
<circle cx="1672.6" cy="1502.6" r="7.3"/>
<circle cx="1627.1" cy="1488.4" r="7.3"/>
<circle cx="1629.2" cy="1528.2" r="7.3"/>
<circle cx="1653.2" cy="1490.6" r="7.3"/>
<circle cx="1631" cy="1534.7" r="7.3"/>
<circle cx="1733.2" cy="1523.6" r="7.3"/>
<circle cx="1658.1" cy="1509.9" r="7.3"/>
<circle cx="1640.5" cy="1509" r="7.3"/>
<circle cx="1654.2" cy="1542.5" r="7.3"/>
<circle cx="1660.2" cy="1503.2" r="7.3"/>
<circle cx="1620.1" cy="1504.8" r="7.3"/>
<circle cx="1681.7" cy="1512.7" r="7.3"/>
<circle cx="1646.1" cy="1512.8" r="7.3"/>
<circle cx="1620.6" cy="1497.2" r="7.3"/>
<circle cx="1696.1" cy="1514.4" r="7.3"/>
<circle cx="1717.6" cy="1522.7" r="7.3"/>
<circle cx="1713.1" cy="1537.1" r="7.3"/>
<circle cx="1748" cy="1489.7" r="7.3"/>
<circle cx="1625.7" cy="1534.3" r="7.3"/>
<circle cx="1736" cy="1520.8" r="7.3"/>
<circle cx="1715.4" cy="1532.8" r="7.3"/>
<circle cx="1638.1" cy="1514" r="7.3"/>
<circle cx="1685.6" cy="1534.3" r="7.3"/>
<circle cx="1708.8" cy="1525.1" r="7.3"/>
<circle cx="1590.5" cy="1470.1" r="7.3"/>
<circle cx="1642.6" cy="1460.8" r="7.3"/>
<circle cx="1628.9" cy="1420.2" r="7.3"/>
<circle cx="1659.8" cy="1464.9" r="7.3"/>
<circle cx="1630.3" cy="1452.1" r="7.3"/>
<circle cx="1653.7" cy="1435.1" r="7.3"/>
<circle cx="1587.4" cy="1435.9" r="7.3"/>
<circle cx="1654" cy="1478.5" r="7.3"/>
<circle cx="1629.4" cy="1443" r="7.3"/>
<circle cx="1656.7" cy="1457" r="7.3"/>
<circle cx="1594.7" cy="1435.2" r="7.3"/>
<circle cx="1654.3" cy="1438.3" r="7.3"/>
<circle cx="1647.6" cy="1437.5" r="7.3"/>
<circle cx="1626.6" cy="1427.1" r="7.3"/>
<circle cx="1669.4" cy="1432" r="7.3"/>
</g>
<rect x="1602.9" y="1187.7" width="21" height="21" fill="#800080" stroke="#5a005a" stroke-width="1"/>
<rect x="1577.5" y="1307.5" width="21" height="21" fill="#ff0000" stroke="#c40000" stroke-width="1"/>
<rect x="1562.5" y="1340.4" width="21" height="21" fill="#ff0000" stroke="#c40000" stroke-width="1"/>
<rect x="1540.8" y="1355.7" width="21" height="21" fill="#800080" stroke="#5a005a" stroke-width="1"/>
<rect x="1519.1" y="1380.8" width="21" height="21" fill="#800080" stroke="#5a005a" stroke-width="1"/>
<rect x="1478.7" y="1394.4" width="21" height="21" fill="#800080" stroke="#5a005a" stroke-width="1"/>
<rect x="1498.6" y="1394.4" width="21" height="21" fill="#800080" stroke="#5a005a" stroke-width="1"/>
<rect x="1473.6" y="1426.3" width="21" height="21" fill="#800080" stroke="#5a005a" stroke-width="1"/>
<rect x="1522" y="1436.6" width="21" height="21" fill="#800080" stroke="#5a005a" stroke-width="1"/>
<rect x="1484.4" y="1452.5" width="21" height="21" fill="#800080" stroke="#5a005a" stroke-width="1"/>
<rect x="1510.6" y="1458.2" width="21" height="21" fill="#800080" stroke="#5a005a" stroke-width="1"/>
<rect x="1485.5" y="1484.4" width="21" height="21" fill="#800080" stroke="#5a005a" stroke-width="1"/>
<rect x="1542.5" y="1402.4" width="21" height="21" fill="#800080" stroke="#5a005a" stroke-width="1"/>
<rect x="1610.9" y="1356.8" width="21" height="21" fill="#ff0000" stroke="#c40000" stroke-width="1"/>
<rect x="1592.1" y="1378.5" width="21" height="21" fill="#ff0000" stroke="#c40000" stroke-width="1"/>
<rect x="1612.6" y="1377.3" width="21" height="21" fill="#ff0000" stroke="#c40000" stroke-width="1"/>
<rect x="1640.5" y="1394.4" width="21" height="21" fill="#ff0000" stroke="#c40000" stroke-width="1"/>
<rect x="1630.9" y="1402.4" width="21" height="21" fill="#ff0000" stroke="#c40000" stroke-width="1"/>
<rect x="1634.9" y="1413.8" width="21" height="21" fill="#ff0000" stroke="#c40000" stroke-width="1"/>
<rect x="1556.3" y="1419.5" width="21" height="21" fill="#ff0000" stroke="#c40000" stroke-width="1"/>
<rect x="1661.6" y="1428.6" width="21" height="21" fill="#ff0000" stroke="#c40000" stroke-width="1"/>
<rect x="1694.6" y="1435.4" width="21" height="21" fill="#ff0000" stroke="#c40000" stroke-width="1"/>
<rect x="1575.1" y="1438.8" width="21" height="21" fill="#ff0000" stroke="#c40000" stroke-width="1"/>
<rect x="1645.7" y="1459.3" width="21" height="21" fill="#ff0000" stroke="#c40000" stroke-width="1"/>
<rect x="1632" y="1470.7" width="21" height="21" fill="#ff0000" stroke="#c40000" stroke-width="1"/>
<rect x="1671.9" y="1468.5" width="21" height="21" fill="#ff0000" stroke="#c40000" stroke-width="1"/>
<rect x="1555.7" y="1466.2" width="21" height="21" fill="#ff0000" stroke="#c40000" stroke-width="1"/>
<rect x="1536.3" y="1355.7" width="21" height="21" fill="#800080" stroke="#5a005a" stroke-width="1"/>
<rect x="1568.8" y="1364.8" width="21" height="21" fill="#800080" stroke="#5a005a" stroke-width="1"/>
<rect x="1546.6" y="1402.4" width="21" height="21" fill="#800080" stroke="#5a005a" stroke-width="1"/>
<rect x="1540.9" y="1416.1" width="21" height="21" fill="#800080" stroke="#5a005a" stroke-width="1"/>
<rect x="1548.3" y="1474.1" width="21" height="21" fill="#800080" stroke="#5a005a" stroke-width="1"/>
<rect x="1504.5" y="1517.9" width="21" height="21" fill="#800080" stroke="#5a005a" stroke-width="1"/>
<rect x="1477.2" y="1528.7" width="21" height="21" fill="#800080" stroke="#5a005a" stroke-width="1"/>
<rect x="1520.5" y="1539" width="21" height="21" fill="#800080" stroke="#5a005a" stroke-width="1"/>
<rect x="1481.2" y="1556.1" width="21" height="21" fill="#800080" stroke="#5a005a" stroke-width="1"/>
<rect x="1504.5" y="1599.3" width="21" height="21" fill="#800080" stroke="#5a005a" stroke-width="1"/>
<rect x="1546.7" y="1611.3" width="21" height="21" fill="#800080" stroke="#5a005a" stroke-width="1"/>
<rect x="1558.1" y="1510.5" width="21" height="21" fill="#800080" stroke="#5a005a" stroke-width="1"/>
<rect x="1559.2" y="1570.9" width="21" height="21" fill="#ff0000" stroke="#c40000" stroke-width="1"/>
<rect x="1596.8" y="1550.4" width="21" height="21" fill="#ff0000" stroke="#c40000" stroke-width="1"/>
<rect x="1643.6" y="1522.4" width="21" height="21" fill="#ff0000" stroke="#c40000" stroke-width="1"/>
<rect x="1746.1" y="1601" width="21" height="21" fill="#ff0000" stroke="#c40000" stroke-width="1"/>
<rect x="1479.3" y="1397" width="21" height="21" fill="#800080" stroke="#5a005a" stroke-width="1"/>
<rect x="1498.9" y="1397" width="21" height="21" fill="#800080" stroke="#5a005a" stroke-width="1"/>
<rect x="1546.4" y="1398.8" width="21" height="21" fill="#800080" stroke="#5a005a" stroke-width="1"/>
<rect x="1481.2" y="1542.3" width="21" height="21" fill="#800080" stroke="#5a005a" stroke-width="1"/>
<rect x="1596.8" y="1540.5" width="21" height="21" fill="#ff0000" stroke="#c40000" stroke-width="1"/>
<rect x="1638.6" y="1686.1" width="21" height="21" fill="#ff0000" stroke="#c40000" stroke-width="1"/>
<rect x="1501.7" y="1598.9" width="21" height="21" fill="#800080" stroke="#5a005a" stroke-width="1"/>
<g font-size="16.8">
<text x="1548.1" y="1218.3">2.51</text>
<text x="1549.5" y="1222.3">3.47</text>
<text x="1546.8" y="1223.7">4.30</text>
<text x="1538" y="1243.2">5.23</text>
<text x="1606.7" y="1236.5">3.83</text>
<text x="1606.7" y="1251.3">3.75</text>
<text x="1530.6" y="1280.2">3.71</text>
<text x="1478.9" y="1299.4">3.23</text>
<text x="1527.3" y="1301.1">3.91</text>
<text x="1638.3" y="1356.3">2.47</text>
<text x="1502.4" y="1364.2">1.52</text>
<text x="1517.8" y="1361.4">1.56</text>
<text x="1514.3" y="1380.2">2.19</text>
<text x="1470.5" y="1392.7">1.60</text>
<text x="1443.2" y="1431.4">1.80</text>
<text x="1492.1" y="1423.4">7.76</text>
<text x="1538.8" y="1439.4">5.57</text>
<text x="1464.8" y="1453.1">3.35</text>
<text x="1484.2" y="1451.9">2.59</text>
<text x="1522.9" y="1445.1">8.64</text>
<text x="1491" y="1472.4">1.48</text>
<text x="1680.2" y="1381.3">5.31</text>
<text x="1688.1" y="1402.9">5.27</text>
<text x="1717.8" y="1408.6">1.28</text>
<text x="1744.5" y="1418.9">2.27</text>
<text x="1680.7" y="1428">8.31</text>
<text x="1680.7" y="1432.6">6.67</text>
<text x="1714.9" y="1467.9">7.35</text>
<text x="1721.7" y="1472.4">7.47</text>
<text x="1729.7" y="1482.7">8.11</text>
<text x="1704.7" y="1454.2">7.83</text>
<text x="1481.5" y="1508.2">2.87</text>
<text x="1507.1" y="1516.8">4.19</text>
<text x="1445.6" y="1528.1">8.63</text>
<text x="1458.2" y="1528.1">8.87</text>
<text x="1514.5" y="1533.8">3.95</text>
<text x="1484.9" y="1556.6">7.71</text>
<text x="1545.3" y="1581.7">2.07</text>
<text x="1486.6" y="1597">3.19</text>
<text x="1555" y="1618.7">1.92</text>
<text x="1584.6" y="1607.3">1.08</text>
<text x="1752.1" y="1573.1">5.13</text>
<text x="1760.1" y="1574.2">5.39</text>
<text x="1678.1" y="1563.9">4.07</text>
<text x="1704.3" y="1550.3">5.87</text>
<text x="1702" y="1583.3">2.04</text>
<text x="1658.2" y="1581">1.24</text>
<text x="1731.1" y="1595.8">5.43</text>
<text x="1751" y="1540">5.47</text>
<text x="1763.5" y="1522.9">5.59</text>
<text x="1759" y="1534.3">5.55</text>
<text x="1671.4" y="1666.2">2.35</text>
<text x="1712.4" y="1702.1">4.11</text>
<text x="1706.8" y="1712.3">1.32</text>
<text x="1638.8" y="1416.6">6.55</text>
<text x="1608.3" y="1441.5">6.23</text>
<text x="1650.4" y="1463.9">6.99</text>
<text x="1668" y="1433.8">7.95</text>
<text x="1618.2" y="1414.2">2.75</text>
<text x="1675.1" y="1432.1">7.59</text>
<text x="1679.8" y="1435.9">6.55</text>
<text x="1693" y="1454.9">6.23</text>
<text x="1685.5" y="1426.2">6.99</text>
<text x="1619.1" y="1440.2">7.95</text>
<text x="1698.2" y="1472.1">7.59</text>
<text x="1676" y="1475.5">6.55</text>
<text x="1699" y="1541.7">6.55</text>
<text x="1670.4" y="1541.7">6.23</text>
<text x="1651.6" y="1509.8">6.99</text>
<text x="1672" y="1516.3">7.95</text>
<text x="1718" y="1475.3">2.75</text>
<text x="1675.5" y="1502.9">7.59</text>
<text x="1647.9" y="1484">6.55</text>
<text x="1631.8" y="1500.1">6.23</text>
<text x="1654.4" y="1498.8">6.99</text>
<text x="1686.5" y="1509.7">7.95</text>
<text x="1740.9" y="1483.9">2.75</text>
<text x="1666" y="1488.8">6.23</text>
<text x="1739.3" y="1530.2">6.99</text>
<text x="1620.8" y="1493.4">7.95</text>
<text x="1757.2" y="1550">2.75</text>
<text x="1646.1" y="1487.3">7.59</text>
<text x="1714.5" y="1535">6.55</text>
<text x="1729.1" y="1509.2">6.23</text>
<text x="1762.3" y="1502.7">6.99</text>
<text x="1635.7" y="1483.1">7.95</text>
<text x="1588.2" y="1542.7">6.55</text>
<text x="1571.7" y="1462.6">6.23</text>
<text x="1564.5" y="1539.8">6.99</text>
<text x="1581.8" y="1540.7">7.95</text>
<text x="1583" y="1448.9">2.75</text>
<text x="1600.1" y="1495.6">7.59</text>
<text x="1563" y="1496">6.55</text>
<text x="1590.3" y="1521">6.23</text>
<text x="1587.3" y="1512.6">6.99</text>
<text x="1598.6" y="1535.6">7.95</text>
<text x="1549.6" y="1432.7">6.55</text>
<text x="1492.1" y="1477.9">6.23</text>
<text x="1536.1" y="1433.2">6.99</text>
<text x="1516.5" y="1462.4">7.95</text>
<text x="1525.3" y="1449.8">2.75</text>
<text x="1528.2" y="1458.4">7.59</text>
<text x="1491.4" y="1504.7">6.55</text>
<text x="1489.6" y="1487.2">6.23</text>
<text x="1548" y="1443">6.99</text>
<text x="1454.1" y="1532">6.55</text>
<text x="1450.8" y="1528.8">6.99</text>
<text x="1474.3" y="1532.3">7.95</text>
<text x="1600.7" y="1551.2">6.55</text>
<text x="1581.1" y="1554.1">6.23</text>
<text x="1642.6" y="1568">7.95</text>
<text x="1650.3" y="1563.3">2.75</text>
<text x="1687.7" y="1518.9">6.55</text>
<text x="1728.5" y="1527.3">6.23</text>
<text x="1645.8" y="1534.2">6.99</text>
<text x="1749.8" y="1529.6">7.95</text>
<text x="1657.1" y="1515">2.75</text>
<text x="1698.3" y="1518.7">6.55</text>
<text x="1712.7" y="1520.4">6.99</text>
<text x="1642.3" y="1540.3">2.75</text>
<text x="1654.7" y="1520">7.59</text>
<text x="1607.1" y="1476.1">6.55</text>
<text x="1645.5" y="1426.2">6.23</text>
<text x="1611.3" y="1441.2">7.59</text>
</g>
<g font-size="16.8">
<circle cx="1420.3" cy="1372.5" r="8"/>
<text x="1436.9" y="1378.5">3.79</text>
<circle cx="1384.4" cy="1405.5" r="8"/>
<text x="1401" y="1411.5">3.59</text>
<circle cx="1385.6" cy="1450.5" r="8"/>
<text x="1402.2" y="1456.5">1.90</text>
<circle cx="1422" cy="1443.6" r="8"/>
<text x="1438.6" y="1449.6">3.35</text>
<circle cx="1401.5" cy="1461.3" r="8"/>
<text x="1418.1" y="1467.3">1.68</text>
<circle cx="1415.7" cy="1477.2" r="8"/>
<text x="1432.3" y="1483.2">1.72</text>
<circle cx="1367.3" cy="1483.5" r="8"/>
<text x="1383.9" y="1489.5">0.84</text>
<circle cx="1367.3" cy="1489.2" r="8"/>
<text x="1383.9" y="1495.2">1.04</text>
<circle cx="1434.2" cy="1549.5" r="8"/>
<text x="1450.8" y="1555.5">0.92</text>
<circle cx="1760" cy="1492.5" r="8"/>
<text x="1776.6" y="1498.5">5.19</text>
<circle cx="1742.9" cy="1559.1" r="8"/>
<text x="1759.5" y="1565.1">5.15</text>
</g>
<text transform="translate(1343.4 1359.1) scale(1 1.085)" font-size="35.5">Ala</text>
<text transform="translate(1280 1451.4) scale(1 1.085)" font-size="35.5">Leu</text>
<text transform="translate(1281.1 1498.6) scale(1 1.085)" font-size="35.5">Val</text>
<text transform="translate(1324.3 1558.1) scale(1 1.085)" font-size="35.5">Ile</text>
<text transform="translate(1795.1 1447.3) scale(1 1.085)" font-size="35.5">Glc</text>
<text transform="translate(1806.9 1556.5) scale(1 1.085)" font-size="35.5">Glyceryl</text>
<text transform="translate(1806.3 1596.6) scale(1 1.085)" font-size="35.5">lipid</text>
<text transform="translate(1559.5 1713) scale(1 1.085)" font-size="35.5">Lac</text>
<g stroke="#7a7a7a" stroke-width="2" fill="none">
<line x1="1163.8" y1="1884.3" x2="1163.8" y2="1060.4"/>
<line x1="1156.8" y1="1883.3" x2="1981" y2="1883.3"/>
<line x1="1163.5" y1="1883.3" x2="1163.5" y2="1890.8"/>
<line x1="1302.7" y1="1883.3" x2="1302.7" y2="1890.8"/>
<line x1="1441.8" y1="1883.3" x2="1441.8" y2="1890.8"/>
<line x1="1581" y1="1883.3" x2="1581" y2="1890.8"/>
<line x1="1720.2" y1="1883.3" x2="1720.2" y2="1890.8"/>
<line x1="1859.3" y1="1883.3" x2="1859.3" y2="1890.8"/>
<line x1="1233.1" y1="1883.3" x2="1233.1" y2="1888.3"/>
<line x1="1372.3" y1="1883.3" x2="1372.3" y2="1888.3"/>
<line x1="1511.4" y1="1883.3" x2="1511.4" y2="1888.3"/>
<line x1="1650.6" y1="1883.3" x2="1650.6" y2="1888.3"/>
<line x1="1789.7" y1="1883.3" x2="1789.7" y2="1888.3"/>
<line x1="1928.9" y1="1883.3" x2="1928.9" y2="1888.3"/>
<line x1="1156.3" y1="1743.1" x2="1163.8" y2="1743.1"/>
<line x1="1156.3" y1="1602.8" x2="1163.8" y2="1602.8"/>
<line x1="1156.3" y1="1462.5" x2="1163.8" y2="1462.5"/>
<line x1="1156.3" y1="1322.2" x2="1163.8" y2="1322.2"/>
<line x1="1156.3" y1="1181.9" x2="1163.8" y2="1181.9"/>
<line x1="1158.8" y1="1813.2" x2="1163.8" y2="1813.2"/>
<line x1="1158.8" y1="1673" x2="1163.8" y2="1673"/>
<line x1="1158.8" y1="1532.7" x2="1163.8" y2="1532.7"/>
<line x1="1158.8" y1="1392.3" x2="1163.8" y2="1392.3"/>
<line x1="1158.8" y1="1252" x2="1163.8" y2="1252"/>
<line x1="1158.8" y1="1111.8" x2="1163.8" y2="1111.8"/>
</g>
<path d="M1163.8 1042.4 L1158.3 1063.4 L1169.3 1063.4 Z" fill="#7a7a7a"/>
<path d="M1999 1883.3 L1978 1877.8 L1978 1888.8 Z" fill="#7a7a7a"/>
<g>
<text transform="translate(1158 1930.2) scale(1 1.08)" font-size="34.5" text-anchor="middle">-1.5</text>
<text transform="translate(1302.7 1930.2) scale(1 1.08)" font-size="34.5" text-anchor="middle">-1</text>
<text transform="translate(1436.3 1930.2) scale(1 1.08)" font-size="34.5" text-anchor="middle">-0.5</text>
<text transform="translate(1581 1930.2) scale(1 1.08)" font-size="34.5" text-anchor="middle">0</text>
<text transform="translate(1721.7 1930.2) scale(1 1.08)" font-size="34.5" text-anchor="middle">0.5</text>
<text transform="translate(1859.3 1930.2) scale(1 1.08)" font-size="34.5" text-anchor="middle">1</text>
<text transform="translate(1145.5 1757.5) scale(1 1.08)" font-size="34.5" text-anchor="end">-1</text>
<text transform="translate(1145.5 1617.2) scale(1 1.08)" font-size="34.5" text-anchor="end">-0.5</text>
<text transform="translate(1145.5 1476.9) scale(1 1.08)" font-size="34.5" text-anchor="end">0</text>
<text transform="translate(1145.5 1336.6) scale(1 1.08)" font-size="34.5" text-anchor="end">0.5</text>
<text transform="translate(1145.5 1196.3) scale(1 1.08)" font-size="34.5" text-anchor="end">1</text>
</g>
<text x="1571.3" y="1969.9" font-size="33.3" text-anchor="middle">p(corr)[1], t(corr)[1]</text>
<text transform="translate(1063.6 1474) rotate(-90)" x="0" y="0" font-size="34.2" text-anchor="middle">po(corr)[1], to(corr)[1]</text>
<text x="1182.8" y="1863.3" font-size="51">D</text>
<text x="1270" y="1079" font-size="35">MCI</text>
<text x="1840.5" y="1079" font-size="35">AD</text>
</svg></body></html>
